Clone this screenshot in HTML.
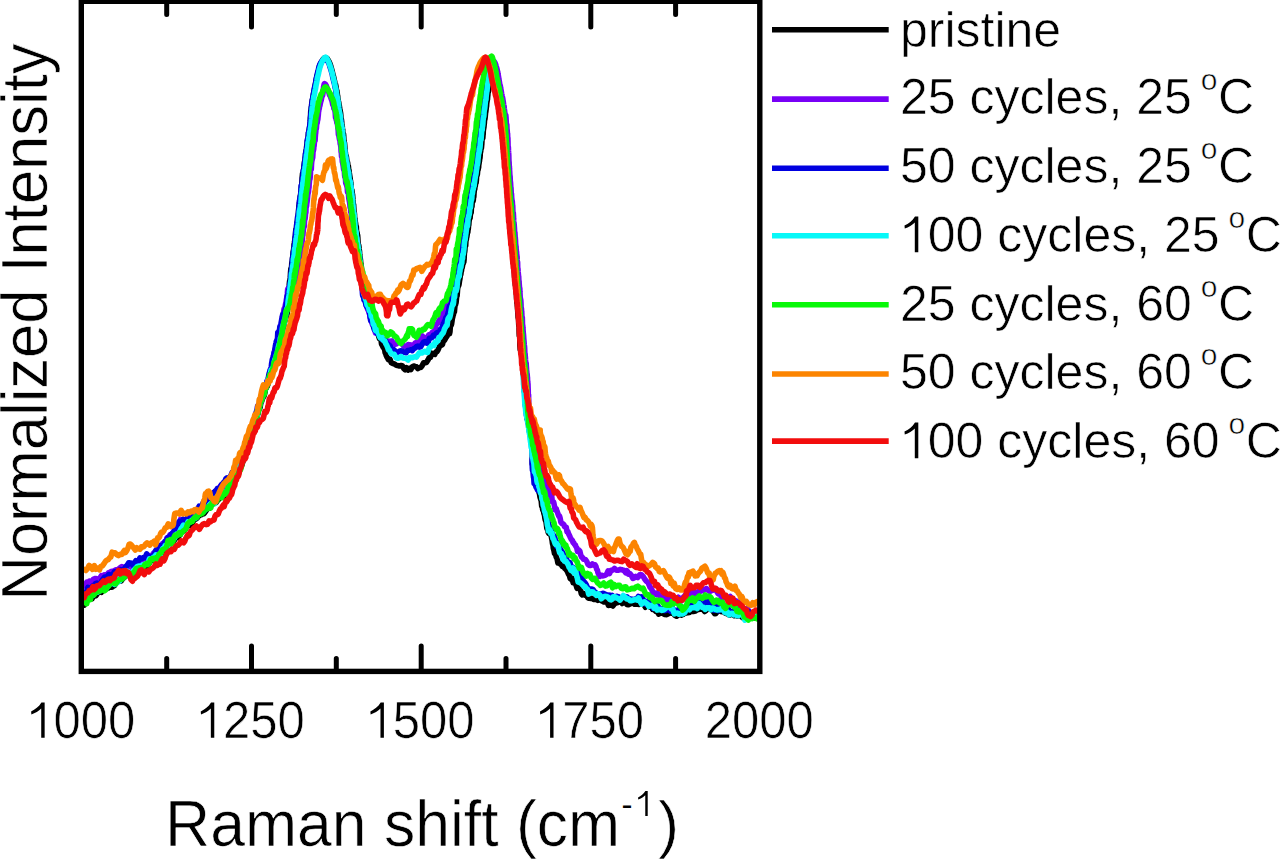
<!DOCTYPE html>
<html><head><meta charset="utf-8"><title>Raman spectra</title>
<style>html,body{margin:0;padding:0;background:#fff;overflow:hidden;width:1280px;height:859px}svg{display:block}</style>
</head><body>
<svg width="1280" height="859" viewBox="0 0 1280 859">
<rect width="1280" height="859" fill="#fff"/>
<defs><clipPath id="pc"><rect x="81" y="1" width="679" height="671"/></clipPath></defs>
<g clip-path="url(#pc)" fill="none" stroke-width="5.6" stroke-linejoin="round" stroke-linecap="round">
<path d="M84.2 605.2 L85.5 601.0 L86.8 599.7 L88.1 598.7 L89.4 599.1 L90.7 596.4 L92.0 598.7 L93.3 596.1 L94.6 595.9 L96.0 595.7 L97.3 593.5 L98.7 591.2 L100.0 591.7 L101.3 592.4 L102.7 590.4 L104.0 589.1 L105.3 588.1 L106.7 588.1 L108.0 588.3 L109.3 586.2 L110.7 587.3 L112.0 587.3 L113.3 586.1 L114.7 585.4 L116.0 582.7 L117.3 582.0 L118.7 580.3 L120.0 580.4 L121.3 580.9 L122.7 578.5 L124.0 577.8 L125.3 576.5 L126.7 575.4 L128.0 575.0 L129.3 574.6 L130.7 573.3 L132.0 574.8 L133.3 574.9 L134.7 572.3 L136.0 569.8 L137.3 568.7 L138.7 570.5 L140.0 569.2 L141.3 566.9 L142.7 567.1 L144.0 568.9 L145.3 567.0 L146.7 565.8 L148.0 564.8 L149.4 562.8 L150.7 560.6 L152.1 560.6 L153.4 560.3 L154.7 560.7 L156.0 560.2 L157.2 558.9 L158.3 557.3 L159.5 555.4 L160.6 554.8 L161.7 554.0 L162.9 551.5 L164.0 550.9 L165.1 549.3 L166.3 550.1 L167.4 550.0 L168.6 547.6 L169.7 542.1 L170.9 541.3 L172.0 541.8 L173.1 542.0 L174.3 540.4 L175.4 536.1 L176.6 536.4 L177.7 537.6 L178.9 535.9 L180.0 535.0 L181.1 532.6 L182.3 531.6 L183.4 531.0 L184.6 530.0 L185.7 528.5 L186.8 526.6 L188.0 526.0 L189.1 525.4 L190.3 525.6 L191.4 525.0 L192.6 522.7 L193.7 520.3 L194.9 518.9 L196.0 519.1 L197.1 518.0 L198.3 516.4 L199.4 515.6 L200.6 514.1 L201.7 514.6 L202.9 512.7 L204.0 513.6 L205.3 511.8 L206.7 509.9 L208.0 507.6 L209.3 508.1 L210.7 505.6 L212.0 504.5 L213.3 503.8 L214.7 501.3 L216.0 502.5 L217.3 500.7 L218.7 499.3 L220.0 496.7 L221.2 496.6 L222.3 494.2 L223.5 496.7 L224.7 495.3 L225.8 493.2 L226.9 491.4 L228.0 493.3 L228.9 492.1 L229.8 486.8 L230.6 489.4 L231.5 488.3 L232.4 484.5 L233.2 482.6 L234.0 482.4 L234.7 479.8 L235.4 477.7 L236.0 476.9 L236.8 477.4 L237.4 474.8 L238.0 473.4 L238.5 470.5 L239.2 471.0 L239.7 468.9 L240.3 467.0 L240.9 465.9 L241.5 465.9 L242.1 464.2 L242.8 462.0 L243.4 460.0 L244.0 458.8 L244.6 457.3 L245.2 456.0 L245.7 452.9 L246.3 448.4 L246.8 452.1 L247.3 452.7 L247.8 448.5 L248.3 445.9 L248.8 444.3 L249.3 442.8 L249.7 440.7 L250.2 438.3 L250.7 437.1 L251.1 436.2 L251.6 435.4 L252.0 434.2 L252.4 432.8 L252.9 432.0 L253.3 430.7 L253.7 430.5 L254.2 425.2 L254.6 423.5 L255.0 424.8 L255.5 425.9 L255.9 421.0 L256.3 419.0 L256.7 417.4 L257.2 418.0 L257.6 414.5 L258.0 413.8 L258.5 410.7 L258.9 408.4 L259.3 409.0 L259.8 408.4 L260.2 406.9 L260.7 403.6 L261.1 402.3 L261.6 401.7 L262.0 400.0 L262.5 398.3 L263.0 397.7 L263.5 396.4 L264.0 396.2 L264.5 394.5 L265.1 391.7 L265.7 386.9 L266.2 388.1 L266.8 387.0 L267.3 386.1 L267.9 384.4 L268.5 381.6 L269.0 380.7 L269.5 379.3 L270.1 377.7 L270.6 372.8 L271.1 370.7 L271.7 370.1 L272.2 369.3 L272.7 371.1 L273.2 368.3 L273.7 364.8 L274.2 366.0 L274.7 362.7 L275.1 360.1 L275.6 361.8 L276.1 360.0 L276.5 357.5 L277.0 358.0 L277.4 355.7 L277.8 355.4 L278.2 353.3 L278.6 351.9 L279.0 348.2 L279.3 347.4 L279.7 347.5 L280.0 343.5 L280.3 341.7 L280.6 340.2 L281.0 339.5 L281.3 338.4 L281.6 337.5 L281.9 337.3 L282.2 334.7 L282.5 330.5 L282.9 328.1 L283.2 327.1 L283.5 324.9 L283.8 326.1 L284.2 323.8 L284.5 322.2 L284.8 321.0 L285.1 318.0 L285.5 316.7 L286.0 317.6 L286.5 315.7 L286.9 314.2 L287.3 312.2 L287.6 308.8 L287.8 307.6 L287.8 304.1 L287.9 305.5 L287.9 305.6 L287.8 302.0 L287.8 303.0 L287.9 300.4 L288.0 297.2 L288.1 295.1 L288.2 294.4 L288.3 291.9 L288.4 291.6 L288.5 291.3 L288.7 289.4 L288.8 289.0 L289.0 288.4 L289.2 285.9 L289.3 284.1 L289.5 282.1 L289.7 280.5 L289.9 281.0 L290.1 279.5 L290.3 277.2 L290.5 273.3 L290.7 270.6 L290.9 268.4 L291.2 270.4 L291.4 267.9 L291.6 266.5 L291.8 263.0 L292.0 262.1 L292.2 261.8 L292.4 259.6 L292.6 257.8 L292.8 255.9 L293.0 254.2 L293.2 251.1 L293.4 251.0 L293.6 249.4 L293.8 248.2 L294.0 247.0 L294.1 244.2 L294.3 243.2 L294.5 241.9 L294.7 241.4 L294.9 239.4 L295.1 237.0 L295.3 237.8 L295.5 235.6 L295.7 230.9 L295.9 229.6 L296.1 228.8 L296.3 229.3 L296.5 228.2 L296.7 224.9 L296.9 223.7 L297.1 222.2 L297.3 221.4 L297.4 220.5 L297.6 219.4 L297.8 216.8 L298.0 217.8 L298.2 216.0 L298.4 213.0 L298.6 210.3 L298.8 207.4 L299.0 205.4 L299.2 204.7 L299.4 202.7 L299.6 202.3 L299.8 199.6 L300.0 200.2 L300.2 198.8 L300.3 195.7 L300.5 195.7 L300.7 193.5 L300.9 192.8 L301.1 191.0 L301.3 188.0 L301.5 185.8 L301.7 186.3 L301.9 183.1 L302.1 178.6 L302.3 176.2 L302.5 173.9 L302.7 173.0 L302.8 174.4 L303.0 175.7 L303.2 172.5 L303.4 171.4 L303.6 169.7 L303.8 168.2 L303.9 166.7 L304.1 165.3 L304.3 164.3 L304.5 161.5 L304.8 161.9 L305.0 160.7 L305.2 157.5 L305.5 156.4 L305.7 153.1 L305.9 152.0 L306.1 150.8 L306.4 148.8 L306.6 146.8 L306.8 145.3 L307.0 145.0 L307.2 142.5 L307.4 140.5 L307.6 140.7 L307.8 139.6 L308.0 139.1 L308.3 135.0 L308.5 132.5 L308.7 133.6 L309.0 131.8 L309.2 129.7 L309.4 128.9 L309.6 127.4 L309.8 127.0 L310.0 126.0 L310.1 124.8 L310.3 121.4 L310.4 117.6 L310.4 117.6 L310.5 117.5 L310.6 115.3 L310.7 112.1 L310.8 110.9 L311.0 110.6 L311.2 108.8 L311.4 107.1 L311.6 105.5 L311.8 103.3 L312.1 101.9 L312.3 99.9 L312.6 100.7 L312.9 97.8 L313.1 96.4 L313.4 94.3 L313.7 93.0 L314.0 91.1 L314.3 90.4 L314.6 89.2 L314.9 86.8 L315.2 85.0 L315.5 83.7 L315.8 82.4 L316.1 80.2 L316.5 78.5 L316.8 76.5 L317.1 75.4 L317.5 74.4 L317.8 73.2 L318.3 71.2 L318.7 69.6 L319.2 67.6 L319.7 65.5 L320.3 64.1 L321.0 62.9 L322.0 61.3 L323.2 59.1 L324.5 58.0 L325.6 57.7 L327.2 58.5 L328.5 60.7 L329.2 61.9 L329.8 63.3 L330.4 65.0 L330.9 66.4 L331.3 67.9 L331.8 69.8 L332.3 71.6 L332.7 73.3 L333.2 75.3 L333.5 76.5 L333.9 78.0 L334.2 79.7 L334.6 81.3 L335.0 83.2 L335.3 84.0 L335.6 84.5 L336.0 86.5 L336.3 89.0 L336.6 90.0 L336.9 91.5 L337.2 92.8 L337.4 94.9 L337.7 96.2 L337.9 98.2 L338.1 99.2 L338.4 101.4 L338.6 102.3 L338.9 103.5 L339.1 105.3 L339.3 105.6 L339.6 107.6 L339.8 109.6 L340.1 110.2 L340.3 111.6 L340.6 113.1 L340.8 115.0 L341.0 118.0 L341.3 119.0 L341.5 120.0 L341.7 121.8 L341.9 124.6 L342.1 126.6 L342.3 126.5 L342.4 127.8 L342.6 129.5 L342.8 130.6 L343.0 134.1 L343.1 134.3 L343.3 134.3 L343.5 133.8 L343.7 135.8 L343.9 140.1 L344.1 140.7 L344.3 143.5 L344.5 142.8 L344.7 145.0 L345.0 149.0 L345.2 151.7 L345.4 152.4 L345.6 154.9 L345.8 156.7 L346.1 156.3 L346.3 156.0 L346.6 158.6 L346.8 160.4 L347.1 161.4 L347.3 162.0 L347.6 162.6 L347.9 165.6 L348.1 165.6 L348.4 166.5 L348.7 169.7 L349.0 170.2 L349.3 172.9 L349.5 174.2 L349.8 176.1 L350.1 178.0 L350.3 180.1 L350.5 180.7 L350.8 183.0 L351.0 183.8 L351.2 187.4 L351.5 190.3 L351.7 189.8 L351.9 190.5 L352.1 191.1 L352.3 194.1 L352.5 194.1 L352.7 196.3 L352.9 199.2 L353.1 201.2 L353.3 203.8 L353.4 204.2 L353.6 204.5 L353.8 207.9 L353.9 210.2 L354.0 211.0 L354.2 212.7 L354.3 212.7 L354.5 214.4 L354.6 217.6 L354.8 219.6 L354.9 218.3 L355.1 219.4 L355.3 221.9 L355.5 222.8 L355.7 224.1 L355.9 227.0 L356.1 227.0 L356.3 226.4 L356.5 230.9 L356.7 231.5 L356.9 232.2 L357.2 233.4 L357.4 237.0 L357.6 234.9 L357.8 237.4 L358.0 241.8 L358.2 245.2 L358.4 245.4 L358.6 244.8 L358.9 246.3 L359.1 248.5 L359.3 250.2 L359.5 251.1 L359.7 254.6 L359.9 256.1 L360.1 258.3 L360.3 258.5 L360.5 260.1 L360.7 262.7 L360.9 263.6 L361.0 266.6 L361.2 267.2 L361.3 266.3 L361.5 275.3 L361.7 272.7 L361.8 272.4 L362.0 272.0 L362.2 275.3 L362.3 276.7 L362.5 279.6 L362.7 281.3 L362.9 284.2 L363.2 284.2 L363.4 285.8 L363.6 286.8 L363.9 288.2 L364.1 291.5 L364.4 292.9 L364.7 292.2 L365.0 292.7 L365.3 295.8 L365.7 299.4 L366.2 299.9 L366.6 302.8 L367.1 301.3 L367.6 302.4 L368.1 301.2 L368.6 304.9 L369.2 308.0 L369.9 311.6 L370.6 312.6 L371.2 314.9 L371.8 316.0 L372.3 317.5 L372.7 317.8 L373.0 320.2 L373.4 320.4 L373.9 321.9 L374.4 322.6 L375.0 323.4 L375.5 325.1 L376.1 328.0 L376.7 329.6 L377.3 329.7 L377.8 333.3 L378.4 335.3 L378.9 337.1 L379.4 338.4 L379.9 337.4 L380.5 336.6 L381.0 339.8 L381.6 344.4 L382.1 343.0 L382.7 346.6 L383.3 346.4 L383.9 348.3 L384.5 348.1 L385.1 352.7 L385.7 353.6 L386.3 355.6 L386.9 357.0 L387.6 358.1 L388.3 359.5 L389.1 359.0 L389.9 359.0 L391.3 362.8 L392.8 363.5 L394.4 363.9 L396.0 365.1 L397.6 365.6 L399.2 365.9 L400.9 365.5 L402.5 366.0 L403.9 368.7 L405.2 369.8 L406.6 367.8 L408.0 370.1 L409.5 368.5 L410.8 369.6 L412.2 366.9 L413.6 366.0 L415.0 366.5 L416.4 366.8 L417.9 368.6 L419.3 367.5 L420.7 367.5 L422.1 365.7 L423.5 362.9 L425.0 362.8 L426.4 362.5 L427.8 360.3 L429.2 357.7 L430.5 357.3 L431.6 353.1 L432.7 354.6 L433.8 353.6 L434.8 354.4 L435.9 351.9 L436.9 351.6 L437.9 350.1 L438.9 347.8 L439.8 345.0 L440.7 345.0 L441.6 345.1 L442.5 344.3 L443.3 340.8 L444.1 340.8 L444.9 339.8 L445.6 338.1 L446.4 337.0 L447.1 336.1 L447.7 334.5 L448.4 330.8 L449.0 329.8 L449.5 333.8 L450.0 331.6 L450.4 325.4 L450.8 325.9 L451.2 325.2 L451.6 323.9 L452.0 321.2 L452.4 318.1 L452.7 317.4 L453.0 315.8 L453.4 314.7 L453.7 312.9 L454.1 312.4 L454.4 311.9 L454.7 308.5 L455.0 305.7 L455.3 304.4 L455.6 304.7 L455.8 303.3 L456.1 302.6 L456.4 299.3 L456.6 297.3 L456.9 294.2 L457.1 296.0 L457.4 291.9 L457.6 288.9 L457.9 287.3 L458.2 285.5 L458.4 286.3 L458.7 285.5 L458.9 285.0 L459.2 283.2 L459.5 281.1 L459.8 279.5 L460.2 276.7 L460.5 272.7 L460.8 274.7 L461.1 271.9 L461.5 270.6 L461.8 267.6 L462.1 268.1 L462.4 266.5 L462.7 264.8 L463.0 263.7 L463.3 263.5 L463.6 262.0 L463.8 262.1 L464.1 259.5 L464.3 254.8 L464.5 252.6 L464.7 251.9 L464.9 250.1 L465.1 245.8 L465.3 244.6 L465.5 245.6 L465.7 245.7 L465.9 241.1 L466.2 240.0 L466.4 239.3 L466.6 237.3 L466.8 237.1 L467.1 235.1 L467.3 233.4 L467.5 232.2 L467.8 232.3 L468.0 230.0 L468.3 228.9 L468.5 226.1 L468.8 224.8 L469.0 221.7 L469.3 219.9 L469.5 219.1 L469.8 218.3 L470.1 218.0 L470.3 215.5 L470.6 212.1 L470.9 213.4 L471.2 212.2 L471.4 207.3 L471.7 207.4 L472.0 206.2 L472.2 201.4 L472.5 201.8 L472.7 201.4 L473.0 201.3 L473.3 200.0 L473.5 197.5 L473.8 196.8 L474.0 193.5 L474.3 190.7 L474.5 189.5 L474.8 188.9 L475.1 185.6 L475.3 186.1 L475.6 183.3 L475.8 183.0 L476.1 182.9 L476.4 180.0 L476.6 176.1 L476.9 176.0 L477.1 175.1 L477.4 174.1 L477.6 171.3 L477.9 169.7 L478.1 170.0 L478.3 168.5 L478.6 167.5 L478.8 164.4 L479.0 163.8 L479.3 161.7 L479.5 160.8 L479.7 158.7 L479.9 158.3 L480.1 156.7 L480.4 151.8 L480.6 151.9 L480.8 150.5 L481.0 148.6 L481.2 147.8 L481.4 148.3 L481.6 146.1 L481.8 144.0 L482.0 140.2 L482.2 138.9 L482.4 138.2 L482.6 138.5 L482.8 138.1 L483.0 135.5 L483.2 133.9 L483.3 131.0 L483.5 129.5 L483.7 128.4 L483.9 127.5 L484.1 125.5 L484.4 122.6 L484.5 120.3 L484.7 119.6 L484.9 119.2 L485.1 117.9 L485.3 115.9 L485.5 113.8 L485.6 112.7 L485.8 111.9 L486.0 110.3 L486.2 108.5 L486.4 106.8 L486.6 105.9 L486.7 103.7 L486.9 102.3 L487.1 101.1 L487.3 100.0 L487.5 99.1 L487.6 97.3 L487.8 95.5 L488.0 92.6 L488.2 92.0 L488.5 91.4 L488.7 87.9 L488.9 86.2 L489.1 85.2 L489.3 83.7 L489.4 81.9 L489.6 80.2 L489.7 78.9 L489.8 77.4 L489.9 76.1 L490.0 74.2 L490.1 72.4 L490.2 70.9 L490.3 69.3 L490.5 67.9 L490.7 66.1 L491.0 64.1 L491.3 62.1 L491.6 60.9 L492.0 60.4 L492.4 60.7 L492.9 61.6 L493.4 62.9 L493.9 64.6 L494.5 66.4 L495.1 68.2 L495.6 70.4 L496.0 72.3 L496.3 73.4 L496.5 74.9 L496.8 76.3 L497.0 77.5 L497.2 79.3 L497.4 81.2 L497.6 82.7 L497.8 84.5 L497.9 85.8 L498.1 87.1 L498.3 88.5 L498.4 90.3 L498.6 92.7 L498.8 94.2 L499.0 94.7 L499.3 96.7 L499.5 98.0 L499.8 97.5 L500.0 101.5 L500.3 101.9 L500.6 104.8 L500.8 105.1 L501.0 106.6 L501.3 109.0 L501.5 109.7 L501.7 112.1 L501.9 114.4 L502.0 116.3 L502.2 117.5 L502.4 118.0 L502.5 119.4 L502.7 123.1 L502.8 123.1 L503.0 125.9 L503.1 127.0 L503.3 129.7 L503.4 129.2 L503.5 129.6 L503.6 132.2 L503.7 134.2 L503.7 135.4 L503.8 135.7 L503.9 137.1 L504.0 137.9 L504.1 138.4 L504.2 141.2 L504.3 143.0 L504.3 145.4 L504.4 147.3 L504.5 146.8 L504.6 148.2 L504.7 149.9 L504.8 150.9 L504.9 154.1 L504.9 155.1 L505.0 159.5 L505.1 159.6 L505.2 159.3 L505.3 161.4 L505.4 162.0 L505.5 164.7 L505.6 168.4 L505.7 170.0 L505.8 170.1 L505.9 172.5 L506.0 173.3 L506.1 176.0 L506.2 178.9 L506.3 178.3 L506.4 177.1 L506.5 179.7 L506.7 183.1 L506.8 185.4 L506.9 183.8 L507.0 186.1 L507.2 188.5 L507.3 190.6 L507.4 192.5 L507.5 191.3 L507.7 193.6 L507.8 197.3 L507.9 198.2 L508.1 199.8 L508.2 202.1 L508.3 202.3 L508.5 204.0 L508.6 204.0 L508.7 203.9 L508.9 205.8 L509.0 209.2 L509.1 210.4 L509.3 211.6 L509.4 213.8 L509.5 214.3 L509.7 216.9 L509.8 217.9 L509.9 217.7 L510.1 219.3 L510.2 224.5 L510.3 223.5 L510.5 222.7 L510.6 226.9 L510.7 229.4 L510.8 230.7 L511.0 232.0 L511.1 232.8 L511.2 235.2 L511.4 236.5 L511.5 237.8 L511.6 239.7 L511.7 242.1 L511.9 243.1 L512.0 243.5 L512.1 245.5 L512.3 247.3 L512.4 249.2 L512.5 251.5 L512.6 253.7 L512.8 254.1 L512.9 252.5 L513.0 254.6 L513.2 258.0 L513.3 259.4 L513.4 260.3 L513.6 259.7 L513.7 262.9 L513.8 265.1 L513.9 264.9 L514.1 266.4 L514.2 268.4 L514.3 271.9 L514.5 274.3 L514.6 277.1 L514.7 277.5 L514.9 275.8 L515.0 277.0 L515.2 282.7 L515.3 285.0 L515.4 284.1 L515.6 285.7 L515.7 284.3 L515.9 285.4 L516.0 288.4 L516.1 290.9 L516.3 292.6 L516.4 294.4 L516.5 296.7 L516.7 299.9 L516.8 301.2 L517.0 303.2 L517.1 303.6 L517.2 303.4 L517.3 305.6 L517.5 307.2 L517.6 309.6 L517.7 310.5 L517.8 312.6 L518.0 314.6 L518.1 317.2 L518.2 317.9 L518.3 317.3 L518.5 319.2 L518.6 318.2 L518.7 324.0 L518.8 325.5 L519.0 324.5 L519.1 327.8 L519.2 333.2 L519.3 335.7 L519.5 333.8 L519.6 335.9 L519.7 335.9 L519.8 340.1 L519.9 344.5 L520.0 346.5 L520.1 347.3 L520.2 349.4 L520.3 349.2 L520.4 349.7 L520.5 350.2 L520.6 350.6 L520.6 350.8 L520.7 350.9 L520.8 350.5 L520.8 349.9 L520.9 348.4 L520.9 346.4 L520.9 343.8 L521.0 342.8 L521.0 338.3 L521.0 337.0 L521.0 333.0 L521.0 335.1 L521.1 335.9 L521.1 335.4 L521.1 333.6 L521.2 332.9 L521.3 332.8 L521.4 331.8 L521.5 331.5 L521.6 335.1 L521.7 335.9 L521.8 334.9 L521.9 339.6 L522.0 341.0 L522.1 343.0 L522.2 346.4 L522.3 346.3 L522.4 348.0 L522.5 350.0 L522.6 350.8 L522.7 352.1 L522.8 356.1 L522.8 357.0 L522.9 358.4 L523.0 359.3 L523.1 360.3 L523.1 362.1 L523.2 364.2 L523.3 366.7 L523.3 368.2 L523.4 368.9 L523.5 371.9 L523.6 371.3 L523.6 370.9 L523.7 374.1 L523.8 375.8 L523.8 375.3 L523.9 377.8 L524.0 379.8 L524.1 383.5 L524.1 383.6 L524.2 386.8 L524.3 387.9 L524.4 388.3 L524.5 390.1 L524.6 391.7 L524.7 389.7 L524.8 394.6 L524.9 396.2 L525.1 400.0 L525.2 399.0 L525.3 401.1 L525.5 399.6 L525.6 404.6 L525.8 405.7 L525.9 406.6 L526.1 408.1 L526.3 410.0 L526.5 411.7 L526.7 411.5 L526.9 413.0 L527.2 417.9 L527.4 419.6 L527.7 419.7 L528.0 420.5 L528.2 422.3 L528.5 424.1 L528.8 425.3 L529.0 427.8 L529.3 427.5 L529.5 429.6 L529.7 432.2 L530.0 432.6 L530.2 432.8 L530.5 436.5 L530.8 436.3 L531.0 438.2 L531.3 439.7 L531.5 441.9 L531.7 443.2 L531.9 445.5 L532.1 448.9 L532.3 450.3 L532.4 450.2 L532.5 451.8 L532.5 453.6 L532.5 456.9 L532.5 457.1 L532.4 457.4 L532.4 459.1 L532.3 461.4 L532.4 464.0 L532.5 465.1 L532.7 463.8 L533.7 466.0 L534.7 467.4 L535.1 472.4 L535.4 473.4 L535.7 476.6 L535.9 474.4 L536.2 478.9 L536.5 478.1 L536.8 479.4 L537.1 480.3 L537.5 481.7 L537.8 484.3 L538.2 485.7 L538.5 487.7 L538.9 490.3 L539.2 493.1 L539.5 493.9 L539.8 495.7 L540.1 497.4 L540.4 498.3 L540.8 499.6 L541.1 499.7 L541.4 502.8 L541.7 506.3 L542.0 505.6 L542.4 507.4 L542.7 510.0 L543.0 509.6 L543.3 509.9 L543.7 512.3 L544.1 514.2 L544.5 514.9 L544.8 517.7 L545.2 519.8 L545.6 520.8 L546.1 522.1 L546.5 525.5 L546.9 528.7 L547.4 527.2 L547.8 529.1 L548.2 532.3 L548.7 533.3 L549.3 532.1 L549.8 532.8 L550.4 533.9 L550.9 534.9 L551.4 536.7 L551.8 539.1 L552.1 540.3 L552.4 542.9 L552.7 544.4 L553.0 545.1 L553.3 548.1 L553.6 549.3 L554.0 550.7 L554.5 553.4 L555.0 554.0 L555.6 554.6 L556.3 557.3 L557.1 558.8 L557.9 563.0 L558.7 562.2 L559.6 563.3 L560.5 564.1 L561.3 564.6 L562.2 566.3 L563.0 565.7 L563.9 566.1 L564.8 568.4 L565.7 569.0 L566.7 570.4 L567.6 572.0 L568.5 574.3 L569.3 575.0 L570.2 578.6 L571.2 579.4 L572.2 578.3 L573.1 582.7 L574.0 581.6 L575.0 582.1 L576.0 585.0 L577.0 588.3 L578.1 587.3 L579.1 587.0 L580.2 588.5 L581.3 593.8 L582.4 594.9 L583.8 593.7 L585.1 595.1 L586.5 595.7 L588.0 597.8 L589.3 598.3 L590.6 598.4 L592.0 598.2 L593.5 599.4 L595.0 599.2 L596.3 599.6 L597.7 600.3 L599.2 599.3 L600.7 600.1 L602.2 601.1 L603.8 601.9 L605.3 600.4 L606.9 601.2 L608.4 605.4 L609.8 605.3 L611.4 605.0 L612.9 606.0 L614.4 603.8 L615.9 602.8 L617.5 602.6 L619.0 599.7 L620.6 601.3 L622.1 603.5 L623.7 602.3 L625.3 602.0 L626.9 604.5 L628.4 604.8 L630.0 604.0 L631.6 602.8 L633.1 603.1 L634.5 604.1 L635.8 604.1 L637.6 604.2 L639.3 604.4 L640.9 603.9 L642.4 601.3 L643.9 604.5 L645.5 607.2 L647.1 604.4 L648.5 604.5 L650.0 607.1 L651.4 606.8 L652.7 609.4 L654.1 609.0 L655.6 611.2 L657.0 610.0 L658.6 614.1 L660.2 613.2 L661.9 612.7 L663.5 613.7 L664.9 614.5 L666.7 614.6 L668.3 613.7 L670.0 612.1 L671.5 613.1 L673.1 611.4 L674.8 615.3 L676.6 616.2 L678.4 614.9 L679.9 614.2 L681.4 615.1 L683.0 614.5 L684.6 612.8 L686.2 613.0 L687.9 612.6 L689.5 612.5 L691.0 610.8 L692.5 611.4 L694.0 611.4 L695.4 611.0 L696.9 609.9 L698.3 609.6 L699.8 609.3 L701.4 609.2 L703.0 609.2 L704.6 611.5 L706.3 610.2 L708.1 607.7 L709.9 608.3 L711.6 609.3 L713.2 611.5 L714.7 613.7 L716.1 613.4 L717.8 609.9 L719.3 610.5 L720.8 611.5 L722.4 611.8 L723.7 611.9 L725.2 613.2 L726.7 613.6 L728.2 614.4 L729.8 615.1 L731.3 614.3 L732.9 614.5 L734.4 615.7 L735.9 614.9 L737.4 616.0 L738.9 615.6 L740.5 615.9 L742.0 617.1 L743.5 618.1 L745.0 617.2 L746.6 616.6 L748.3 617.0 L750.0 615.8 L751.6 617.7 L753.2 616.7 L754.6 617.8 L755.9 617.2 L758.1 617.7 L760.0 617.9" stroke="#000"/>
<path d="M84.2 585.9 L85.5 585.3 L86.8 582.1 L88.1 586.2 L89.5 581.0 L90.8 581.4 L92.1 582.5 L93.4 579.3 L94.7 578.6 L96.0 578.5 L97.4 580.6 L98.7 581.9 L100.1 577.7 L101.4 575.6 L102.8 576.4 L104.2 574.8 L105.6 575.4 L107.2 574.4 L108.5 572.8 L109.8 572.2 L111.3 571.4 L112.7 571.8 L114.2 570.8 L115.7 569.8 L117.3 569.9 L118.8 569.0 L120.3 567.6 L121.8 566.6 L123.3 567.6 L124.7 568.0 L126.0 569.9 L127.5 565.1 L129.0 565.8 L130.4 566.7 L131.8 567.6 L133.1 566.2 L134.5 563.7 L135.8 563.5 L137.2 563.8 L138.6 562.5 L139.9 562.4 L141.2 559.4 L142.6 562.1 L144.0 562.4 L145.3 559.4 L146.7 559.1 L148.0 557.7 L149.4 555.5 L150.7 556.0 L152.0 556.3 L153.3 553.5 L154.5 552.5 L155.7 552.2 L156.8 552.2 L158.0 551.3 L159.2 548.7 L160.3 548.3 L161.5 545.3 L162.6 543.5 L163.7 543.7 L164.8 543.0 L165.9 542.0 L166.9 538.0 L168.0 538.8 L169.0 537.0 L169.9 534.8 L170.8 536.5 L171.7 535.3 L172.6 532.8 L173.5 532.3 L174.4 530.0 L175.3 528.2 L176.1 527.8 L177.0 525.4 L177.9 522.9 L178.7 524.2 L179.6 523.1 L180.5 519.4 L181.9 520.9 L183.3 521.2 L184.7 522.0 L186.1 521.6 L187.5 518.5 L188.9 517.6 L190.0 519.8 L191.1 518.4 L192.3 515.4 L193.4 515.1 L194.6 514.2 L195.7 512.9 L196.9 512.4 L198.1 508.0 L199.2 509.5 L200.4 507.9 L201.5 506.1 L202.7 505.3 L203.8 501.8 L205.0 503.8 L206.1 501.3 L207.3 499.8 L208.4 499.7 L209.6 500.8 L210.7 501.1 L211.9 497.9 L213.0 494.4 L214.1 492.8 L215.2 492.0 L216.2 490.6 L217.3 488.9 L218.4 488.1 L219.5 487.5 L220.6 486.0 L221.6 484.6 L222.6 483.8 L223.6 487.2 L224.5 482.0 L225.9 480.0 L227.1 480.9 L228.4 479.5 L229.6 479.5 L230.8 479.1 L231.6 477.8 L232.4 475.2 L233.1 473.3 L233.9 472.3 L234.7 469.2 L235.5 468.9 L236.3 466.9 L237.1 466.5 L237.8 465.6 L238.6 464.9 L239.3 460.9 L240.0 462.0 L240.6 460.7 L241.3 458.4 L241.9 454.9 L242.5 454.5 L243.0 451.4 L243.6 449.8 L244.2 455.9 L244.7 452.6 L245.3 451.4 L245.8 446.9 L246.4 446.7 L246.9 445.4 L247.5 443.4 L248.0 440.8 L248.5 438.2 L248.9 436.0 L249.4 437.6 L249.9 436.6 L250.3 435.3 L250.8 433.4 L251.2 432.4 L251.7 428.3 L252.1 427.4 L252.6 426.6 L253.0 423.5 L253.4 422.6 L253.9 422.8 L254.3 421.4 L254.7 420.3 L255.2 422.3 L255.6 420.9 L256.0 417.3 L256.5 412.7 L257.0 411.2 L257.5 411.3 L258.0 408.4 L258.5 405.9 L259.0 406.0 L259.5 403.8 L260.0 402.1 L260.5 403.4 L261.0 402.3 L261.5 399.1 L262.0 396.6 L262.5 396.5 L263.0 395.7 L263.5 393.5 L264.0 389.2 L264.5 389.3 L265.0 389.3 L265.5 388.6 L266.0 387.7 L266.5 385.7 L267.0 381.3 L267.5 379.9 L268.0 378.8 L268.4 381.2 L268.8 378.0 L269.2 376.9 L269.6 375.8 L270.0 372.1 L270.4 369.4 L270.7 369.0 L271.1 368.8 L271.5 368.8 L271.9 365.3 L272.3 363.3 L272.6 362.9 L273.0 359.6 L273.4 357.7 L273.7 354.5 L274.1 355.4 L274.5 353.3 L274.9 350.2 L275.2 349.7 L275.6 349.6 L276.0 347.4 L276.4 347.0 L276.7 345.4 L277.1 342.4 L277.5 342.6 L277.8 343.1 L278.2 338.9 L278.6 336.5 L278.9 335.0 L279.3 334.0 L279.6 334.3 L280.0 332.9 L280.3 331.8 L280.7 329.9 L281.0 328.3 L281.3 326.3 L281.7 323.1 L282.0 320.5 L282.4 319.1 L282.7 315.3 L283.0 319.1 L283.3 313.6 L283.6 313.0 L283.9 309.7 L284.2 308.6 L284.5 308.9 L284.8 307.5 L285.1 306.7 L285.4 304.8 L285.7 303.4 L286.0 302.7 L286.3 300.1 L286.7 297.9 L287.0 296.8 L287.3 294.0 L287.7 289.0 L288.0 290.3 L288.3 288.7 L288.6 287.6 L288.9 287.7 L289.2 288.1 L289.5 287.8 L289.8 287.4 L290.1 287.3 L290.3 288.2 L290.6 288.7 L290.9 291.2 L291.1 294.0 L291.4 295.3 L291.6 297.2 L291.9 296.9 L292.1 297.2 L292.7 296.0 L293.2 294.1 L293.4 293.4 L293.7 292.3 L293.9 291.4 L294.1 292.0 L294.4 291.3 L294.6 288.2 L294.9 285.9 L295.1 282.9 L295.4 278.5 L295.7 279.7 L296.0 278.6 L296.2 276.8 L296.5 275.2 L296.8 271.2 L297.1 270.6 L297.4 272.9 L297.7 270.8 L298.0 267.9 L298.3 267.9 L298.6 263.3 L298.9 262.5 L299.1 260.8 L299.4 258.5 L299.7 257.7 L299.9 256.5 L300.1 256.0 L300.4 255.0 L300.6 251.4 L300.8 249.3 L301.0 249.0 L301.3 247.6 L301.5 245.2 L301.7 245.0 L301.9 244.3 L302.1 241.0 L302.3 240.7 L302.5 235.8 L302.7 234.2 L302.9 235.6 L303.1 232.4 L303.3 230.6 L303.4 230.0 L303.6 228.4 L303.8 227.3 L304.0 224.3 L304.1 225.8 L304.3 226.6 L304.5 220.8 L304.7 218.4 L304.9 219.4 L305.1 218.7 L305.3 216.8 L305.5 213.7 L305.7 213.2 L305.9 212.3 L306.0 208.0 L306.2 207.3 L306.4 206.4 L306.6 205.8 L306.8 203.3 L307.0 202.4 L307.2 200.7 L307.4 199.4 L307.6 197.0 L307.8 194.8 L307.9 194.0 L308.1 193.4 L308.3 191.9 L308.5 191.9 L308.7 188.9 L308.9 187.9 L309.0 187.7 L309.2 183.7 L309.4 181.9 L309.6 179.4 L309.8 179.4 L310.0 179.1 L310.2 176.9 L310.4 174.6 L310.5 170.3 L310.7 169.4 L310.9 168.4 L311.1 169.1 L311.3 169.3 L311.5 164.5 L311.7 162.0 L311.9 160.8 L312.1 160.1 L312.3 158.7 L312.5 158.3 L312.7 157.7 L312.9 154.1 L313.1 150.7 L313.3 151.1 L313.5 149.4 L313.7 149.4 L313.9 146.3 L314.1 146.0 L314.3 143.7 L314.5 141.2 L314.7 139.7 L314.9 140.5 L315.1 140.7 L315.3 136.7 L315.5 134.2 L315.7 132.9 L315.9 129.8 L316.1 128.3 L316.3 129.0 L316.5 126.7 L316.7 123.3 L316.9 122.8 L317.1 123.4 L317.3 122.1 L317.5 120.2 L317.8 119.7 L318.0 117.8 L318.3 115.0 L318.5 112.2 L318.8 110.7 L319.0 109.2 L319.3 108.4 L319.6 106.0 L319.9 105.9 L320.3 103.5 L320.8 101.4 L321.3 99.8 L321.8 96.9 L322.3 96.0 L322.7 95.2 L323.0 93.2 L323.2 91.8 L323.4 89.1 L323.6 86.7 L323.9 85.6 L324.2 84.0 L324.6 83.6 L325.1 84.0 L325.7 84.6 L326.3 85.6 L327.0 87.6 L327.7 90.1 L328.4 90.7 L329.0 93.0 L329.6 95.4 L330.2 95.7 L330.7 97.3 L331.3 99.2 L331.8 100.4 L332.3 102.3 L332.7 104.6 L333.2 105.2 L333.6 106.4 L333.9 108.5 L334.3 109.2 L334.6 109.5 L334.9 110.7 L335.2 112.5 L335.5 117.3 L335.8 117.2 L336.1 119.2 L336.4 120.4 L336.7 120.8 L336.9 123.1 L337.2 122.8 L337.4 123.4 L337.7 126.3 L337.9 127.7 L338.2 130.6 L338.4 134.4 L338.7 135.2 L338.9 135.0 L339.1 137.2 L339.4 138.9 L339.6 139.8 L339.8 139.9 L340.0 141.3 L340.2 143.8 L340.5 144.3 L340.7 146.1 L340.9 147.3 L341.1 152.0 L341.3 150.7 L341.5 156.2 L341.7 154.5 L341.9 154.9 L342.1 157.1 L342.3 161.3 L342.5 162.5 L342.7 162.4 L343.0 164.8 L343.2 165.9 L343.4 167.6 L343.7 169.8 L343.9 169.6 L344.1 168.7 L344.4 172.0 L344.6 175.4 L344.9 177.4 L345.1 176.8 L345.4 178.0 L345.7 182.7 L346.0 182.1 L346.3 184.5 L346.6 185.0 L346.9 186.6 L347.2 187.2 L347.5 191.9 L347.9 189.3 L348.2 191.5 L348.5 194.4 L348.8 198.5 L349.0 199.4 L349.3 200.9 L349.5 201.8 L349.8 203.8 L350.0 206.3 L350.2 207.8 L350.4 206.9 L350.6 209.0 L350.7 211.6 L350.9 211.4 L351.1 212.7 L351.3 214.4 L351.4 218.6 L351.6 219.0 L351.8 217.5 L352.0 220.7 L352.2 222.3 L352.3 226.0 L352.5 226.5 L352.7 225.1 L352.8 227.8 L353.0 228.8 L353.2 230.8 L353.3 232.2 L353.5 232.3 L353.7 236.5 L354.0 236.9 L354.2 239.0 L354.5 243.3 L354.7 245.3 L355.0 245.1 L355.3 246.8 L355.6 246.1 L355.9 249.1 L356.3 250.1 L356.6 251.2 L357.0 252.4 L357.3 254.5 L357.7 256.3 L358.0 259.1 L358.4 263.1 L358.8 261.6 L359.2 262.3 L359.6 261.4 L360.1 262.0 L360.6 268.9 L361.0 267.1 L361.5 269.3 L361.9 272.4 L362.4 275.0 L362.8 276.9 L363.2 278.4 L363.6 276.7 L363.9 278.8 L364.1 281.5 L364.4 282.1 L364.5 283.6 L364.7 285.6 L364.8 290.3 L364.9 288.6 L365.1 289.5 L365.2 291.9 L365.3 293.5 L365.4 296.9 L365.5 297.2 L365.6 298.3 L365.7 300.2 L365.9 304.1 L366.0 305.3 L366.3 304.5 L366.5 304.2 L367.1 307.1 L367.7 309.7 L368.4 310.3 L369.1 313.1 L369.7 314.5 L370.2 317.6 L370.6 318.3 L371.0 319.4 L371.5 320.2 L372.0 323.3 L372.6 324.9 L373.2 325.1 L373.9 327.1 L374.7 328.8 L375.5 332.9 L376.4 331.6 L377.3 333.4 L378.4 333.7 L379.4 334.7 L380.5 336.1 L381.8 338.1 L383.1 339.7 L384.6 341.4 L386.0 341.5 L387.4 340.9 L388.9 341.3 L390.4 341.3 L392.0 340.9 L393.5 343.9 L395.1 344.2 L396.7 343.8 L398.4 341.7 L400.0 341.5 L401.6 342.1 L403.2 345.7 L404.8 346.9 L406.5 346.3 L408.1 344.6 L409.5 344.7 L410.9 345.0 L412.3 345.3 L413.7 345.1 L415.1 343.2 L416.5 342.3 L417.9 342.6 L419.3 341.8 L420.8 339.7 L422.2 335.9 L423.7 337.6 L425.0 339.0 L426.4 337.8 L427.7 336.8 L428.9 334.8 L430.0 334.6 L431.0 334.1 L432.1 332.6 L433.1 331.9 L434.1 331.4 L435.0 329.9 L436.0 324.4 L437.0 323.8 L437.9 322.9 L438.8 321.1 L439.7 319.5 L440.6 320.1 L441.4 317.1 L442.2 314.2 L443.0 313.0 L443.6 312.8 L444.2 311.1 L444.7 311.6 L445.2 312.7 L445.7 307.4 L446.2 305.1 L446.6 307.5 L447.1 304.2 L447.5 300.7 L448.0 299.0 L448.4 299.5 L448.8 298.4 L449.2 297.4 L449.6 293.4 L450.0 292.5 L450.4 291.0 L450.8 290.3 L451.1 290.4 L451.5 288.1 L451.9 284.9 L452.3 283.8 L452.6 282.9 L453.0 281.6 L453.3 278.6 L453.7 276.6 L454.0 276.1 L454.3 275.9 L454.6 275.6 L454.9 274.4 L455.3 271.7 L455.6 268.6 L455.9 267.7 L456.2 265.5 L456.5 263.1 L456.8 262.9 L457.1 261.8 L457.4 259.8 L457.7 255.6 L458.0 254.5 L458.3 254.1 L458.6 252.9 L458.9 251.1 L459.1 248.3 L459.4 246.1 L459.7 247.8 L460.0 245.8 L460.3 243.3 L460.5 241.3 L460.8 240.1 L461.1 240.2 L461.4 237.7 L461.6 236.1 L461.9 235.4 L462.2 231.7 L462.5 233.1 L462.7 230.6 L463.0 226.8 L463.3 225.3 L463.5 221.8 L463.8 220.6 L464.1 221.5 L464.4 221.3 L464.6 218.8 L464.9 216.0 L465.2 214.5 L465.4 212.9 L465.7 211.1 L466.0 207.5 L466.2 208.2 L466.5 208.1 L466.8 209.9 L467.0 206.2 L467.3 203.2 L467.5 201.8 L467.8 199.8 L468.0 196.4 L468.2 194.0 L468.4 194.3 L468.7 193.7 L468.9 192.3 L469.1 189.7 L469.3 188.2 L469.5 187.7 L469.7 186.9 L469.9 185.5 L470.1 183.5 L470.3 181.6 L470.5 180.2 L470.7 179.2 L470.9 175.9 L471.1 174.5 L471.3 173.9 L471.5 171.5 L471.7 171.3 L471.9 169.5 L472.1 168.3 L472.3 165.4 L472.5 165.1 L472.7 164.5 L472.9 161.3 L473.1 159.7 L473.3 157.9 L473.5 157.4 L473.8 155.8 L474.0 154.1 L474.2 150.8 L474.4 148.1 L474.6 147.5 L474.8 147.9 L475.0 149.2 L475.2 145.8 L475.5 141.2 L475.7 137.8 L475.9 139.7 L476.1 137.6 L476.3 134.8 L476.5 136.2 L476.7 133.9 L476.9 131.6 L477.1 128.9 L477.3 128.7 L477.7 128.5 L478.0 125.9 L478.4 123.2 L478.7 122.8 L479.1 123.4 L479.4 121.6 L479.7 121.3 L480.0 118.4 L480.2 116.4 L480.4 114.9 L480.6 112.1 L480.8 109.5 L481.0 108.9 L481.1 107.5 L481.3 105.3 L481.4 103.7 L481.6 103.4 L481.8 101.2 L482.0 98.9 L482.2 97.5 L482.5 97.3 L482.7 96.0 L482.9 93.3 L483.2 92.1 L483.4 89.9 L483.7 89.3 L484.0 88.5 L484.2 86.0 L484.5 83.6 L484.8 81.9 L485.0 80.1 L485.3 78.2 L485.6 77.5 L485.9 75.8 L486.2 74.1 L486.5 72.4 L486.8 70.7 L487.1 69.4 L487.5 67.9 L488.0 66.1 L488.5 64.2 L489.1 62.4 L489.7 60.8 L490.5 59.9 L492.0 60.0 L493.5 61.0 L494.3 61.7 L495.0 62.8 L495.6 64.3 L496.1 66.1 L496.7 67.9 L497.2 69.9 L497.5 71.1 L497.8 72.3 L498.1 74.3 L498.4 76.0 L498.7 77.8 L498.9 78.6 L499.2 80.8 L499.5 82.3 L499.8 84.8 L500.1 85.2 L500.4 86.5 L500.7 88.4 L501.0 89.8 L501.3 91.4 L501.6 93.5 L501.9 95.2 L502.2 96.5 L502.5 97.3 L502.7 98.3 L503.0 100.1 L503.3 101.8 L503.6 104.3 L503.8 105.7 L504.1 106.2 L504.3 108.6 L504.5 110.2 L504.8 112.7 L505.0 113.6 L505.2 115.8 L505.4 115.9 L505.6 114.9 L505.8 115.4 L506.0 117.2 L506.2 120.4 L506.4 124.6 L506.6 125.1 L506.8 124.5 L507.0 128.9 L507.1 129.9 L507.2 130.3 L507.3 131.6 L507.4 133.2 L507.5 133.7 L507.6 134.1 L507.7 137.6 L507.8 137.5 L507.9 138.2 L508.0 141.0 L508.1 145.7 L508.1 148.1 L508.2 148.2 L508.3 146.7 L508.4 147.8 L508.5 150.9 L508.6 152.2 L508.7 153.1 L508.7 153.7 L508.8 155.5 L508.9 159.4 L509.0 162.2 L509.1 161.6 L509.2 164.8 L509.3 166.2 L509.4 166.3 L509.5 169.0 L509.6 170.6 L509.7 171.9 L509.8 174.4 L509.9 175.0 L510.0 176.2 L510.1 176.5 L510.2 178.5 L510.3 181.1 L510.5 182.2 L510.6 183.5 L510.7 185.7 L510.8 187.2 L511.0 188.0 L511.1 189.8 L511.2 192.3 L511.3 193.6 L511.5 194.0 L511.6 196.2 L511.7 197.9 L511.9 199.4 L512.0 200.7 L512.1 200.9 L512.3 201.4 L512.4 203.0 L512.5 205.2 L512.7 205.6 L512.8 208.2 L512.9 212.2 L513.1 213.0 L513.2 212.6 L513.3 212.9 L513.5 215.9 L513.6 219.0 L513.7 220.5 L513.9 222.2 L514.0 222.8 L514.1 223.8 L514.3 226.1 L514.4 227.5 L514.5 229.5 L514.6 231.4 L514.8 232.0 L514.9 232.2 L515.0 233.8 L515.2 237.3 L515.3 237.3 L515.4 239.0 L515.5 240.3 L515.7 245.1 L515.8 244.6 L515.9 246.2 L516.1 246.7 L516.2 252.6 L516.3 249.7 L516.4 251.7 L516.6 251.8 L516.7 255.5 L516.8 254.6 L517.0 256.6 L517.1 256.8 L517.2 259.9 L517.4 262.7 L517.5 266.3 L517.6 262.3 L517.7 267.4 L517.9 268.5 L518.0 269.0 L518.1 271.2 L518.3 273.6 L518.4 274.6 L518.5 275.8 L518.7 276.6 L518.8 279.0 L518.9 280.7 L519.1 281.2 L519.2 283.5 L519.4 285.9 L519.5 287.8 L519.6 288.6 L519.8 288.1 L519.9 291.5 L520.1 295.1 L520.2 297.1 L520.3 297.7 L520.5 299.4 L520.6 299.3 L520.7 299.4 L520.9 302.0 L521.0 303.9 L521.1 307.3 L521.3 308.6 L521.4 308.1 L521.5 309.4 L521.6 311.4 L521.8 313.4 L521.9 316.5 L522.0 316.2 L522.1 319.1 L522.3 317.2 L522.4 320.0 L522.5 324.8 L522.6 324.8 L522.8 326.0 L522.9 327.7 L523.0 328.5 L523.1 330.4 L523.2 332.1 L523.4 333.7 L523.5 334.8 L523.6 335.9 L523.7 337.6 L523.8 339.0 L524.0 341.2 L524.1 342.3 L524.2 344.1 L524.3 344.9 L524.4 345.5 L524.6 347.3 L524.7 349.6 L524.8 352.0 L524.9 353.6 L525.1 353.7 L525.2 355.2 L525.4 357.5 L525.5 359.5 L525.7 362.2 L525.8 364.5 L526.0 363.8 L526.2 363.0 L526.3 365.6 L526.5 368.3 L526.6 370.5 L526.8 371.6 L526.9 373.1 L527.1 373.9 L527.2 374.9 L527.4 377.3 L527.5 377.7 L527.6 382.1 L527.7 381.1 L527.8 381.5 L527.9 384.4 L528.0 383.5 L528.1 386.8 L528.2 389.7 L528.3 394.3 L528.4 396.7 L528.5 394.1 L528.6 395.7 L528.6 398.8 L528.7 398.8 L528.8 402.3 L528.9 405.6 L529.0 405.2 L529.1 405.3 L529.2 406.1 L529.3 408.2 L529.4 410.7 L529.5 414.3 L529.6 413.0 L529.7 413.4 L529.8 416.9 L529.9 419.5 L530.1 420.2 L530.2 421.2 L530.3 423.1 L530.5 424.9 L530.6 426.1 L531.0 427.7 L531.3 428.7 L531.7 428.5 L532.1 432.3 L532.6 432.8 L533.0 433.9 L533.3 435.4 L533.5 436.8 L533.8 438.1 L534.1 439.8 L534.4 440.7 L534.6 443.7 L534.9 447.5 L535.2 449.6 L535.5 449.6 L535.9 452.5 L536.2 452.3 L536.5 456.0 L536.8 456.9 L537.1 457.6 L537.4 458.3 L537.7 460.6 L538.0 461.6 L538.4 460.1 L538.8 462.3 L539.1 464.0 L539.5 467.4 L539.9 470.2 L540.2 470.9 L540.6 472.9 L541.1 473.1 L541.5 473.5 L542.0 475.6 L542.6 478.0 L543.2 478.8 L543.9 479.0 L544.6 481.9 L545.3 485.3 L546.0 484.7 L546.8 485.6 L547.5 485.9 L548.0 488.3 L548.5 488.7 L549.1 491.5 L549.6 495.1 L550.1 495.4 L550.7 494.9 L551.2 497.9 L551.8 496.8 L552.3 501.7 L552.9 501.7 L553.5 501.8 L554.0 503.8 L554.6 506.9 L555.1 509.8 L555.7 509.0 L556.2 508.7 L556.9 511.0 L557.6 512.8 L558.2 514.5 L558.9 516.4 L559.6 516.2 L560.2 518.5 L560.9 522.1 L561.6 523.1 L562.3 523.6 L563.0 523.9 L563.8 524.6 L564.6 526.7 L565.4 526.9 L566.2 527.1 L567.0 531.7 L567.8 531.5 L568.6 533.9 L569.4 535.4 L570.2 537.2 L571.0 538.8 L571.7 539.8 L572.4 540.5 L573.1 542.6 L573.8 542.9 L574.5 544.5 L575.3 544.9 L576.0 546.6 L576.8 547.9 L577.5 551.4 L578.3 551.0 L579.1 550.3 L579.9 551.3 L580.7 554.9 L581.6 557.1 L582.4 557.2 L583.5 559.3 L584.5 559.3 L585.6 559.7 L586.8 561.5 L588.0 564.3 L589.3 565.4 L590.8 565.4 L592.3 563.9 L593.7 565.2 L595.0 564.8 L595.9 566.2 L596.7 569.4 L597.3 569.9 L598.0 572.8 L598.7 574.5 L599.7 576.4 L601.3 575.2 L603.0 575.9 L604.9 575.3 L606.6 574.3 L608.1 570.8 L609.6 573.5 L611.0 570.2 L612.5 570.3 L614.4 568.5 L616.4 570.2 L618.3 570.3 L620.3 569.4 L622.2 569.8 L624.1 570.5 L625.6 572.7 L627.0 570.7 L628.4 574.1 L629.9 573.5 L631.3 575.2 L632.8 578.4 L634.3 577.8 L635.8 576.4 L637.8 577.5 L639.7 574.7 L641.6 574.7 L642.7 576.0 L643.7 577.3 L644.7 579.0 L645.6 580.2 L646.5 581.4 L647.4 581.8 L648.4 583.3 L649.2 585.2 L650.1 587.4 L651.0 588.0 L652.1 590.3 L653.3 594.1 L654.7 593.0 L656.1 594.5 L657.5 593.0 L659.0 595.0 L660.6 597.2 L662.2 599.0 L663.9 597.4 L665.5 597.7 L667.2 600.4 L668.8 600.0 L670.3 597.8 L671.9 599.3 L673.4 600.8 L675.0 599.8 L676.6 598.3 L678.2 597.2 L679.8 598.3 L681.4 600.8 L683.0 597.6 L684.3 596.4 L685.6 594.6 L686.9 594.5 L688.2 595.5 L689.6 595.2 L691.0 593.9 L692.4 590.9 L693.9 591.3 L695.4 595.1 L697.0 592.6 L698.5 591.3 L700.0 591.7 L701.4 590.5 L703.1 590.7 L704.8 589.2 L706.4 588.5 L708.0 590.2 L709.8 591.5 L711.6 590.5 L713.4 590.1 L715.1 588.5 L716.2 588.8 L717.2 592.1 L718.1 593.8 L719.0 594.1 L720.1 593.6 L721.3 597.1 L722.5 598.1 L723.9 597.9 L725.4 597.7 L727.0 598.0 L728.6 597.5 L730.1 596.5 L731.6 598.6 L732.9 599.1 L734.5 600.8 L736.0 600.9 L737.4 601.8 L738.7 602.1 L740.0 605.9 L741.3 606.9 L742.4 607.4 L743.6 609.3 L744.7 609.8 L746.0 609.9 L747.3 608.4 L748.7 610.8 L750.1 614.2 L751.6 613.3 L753.0 614.2 L754.7 614.3 L756.5 612.9 L758.2 614.1 L760.0 610.5" stroke="#7800F6"/>
<path d="M84.2 595.9 L85.5 593.1 L86.7 590.9 L87.9 587.4 L89.2 588.5 L90.4 587.9 L91.7 587.1 L92.9 585.8 L94.2 585.3 L95.5 583.6 L96.8 583.1 L98.1 584.7 L99.4 584.6 L100.7 583.3 L102.0 580.5 L103.3 578.8 L104.7 577.1 L106.0 577.8 L107.4 576.5 L108.7 574.5 L110.1 575.0 L111.4 576.7 L112.9 574.9 L114.3 571.8 L115.8 571.6 L117.3 572.6 L118.7 570.7 L120.2 569.5 L121.7 570.3 L123.1 571.4 L124.6 568.6 L126.0 566.2 L127.4 565.2 L128.8 562.7 L130.2 563.0 L131.6 563.3 L133.0 565.3 L134.4 563.6 L135.8 560.7 L137.2 562.7 L138.6 560.7 L139.9 557.9 L141.2 558.7 L142.6 558.2 L143.9 557.3 L145.3 557.4 L146.7 553.9 L148.0 556.1 L149.4 557.5 L150.7 556.8 L152.0 556.2 L153.3 555.4 L154.5 553.4 L155.7 550.6 L156.9 549.4 L158.0 546.7 L159.2 545.6 L160.3 546.6 L161.5 547.7 L162.6 545.2 L163.7 545.6 L164.8 541.5 L165.9 541.0 L166.9 539.5 L168.0 537.3 L169.0 538.6 L170.0 537.2 L171.0 534.6 L172.0 533.6 L173.0 534.0 L173.9 531.4 L174.9 530.0 L175.8 528.3 L176.7 525.5 L177.7 524.1 L178.6 524.1 L179.5 521.3 L180.5 522.0 L181.9 521.0 L183.3 519.3 L184.7 520.3 L186.1 520.4 L187.5 517.8 L188.9 514.2 L190.0 512.6 L191.1 513.8 L192.3 513.4 L193.4 512.1 L194.6 511.8 L195.7 510.5 L196.9 509.5 L198.1 509.3 L199.2 506.1 L200.4 506.7 L201.5 507.8 L202.7 504.0 L203.8 501.5 L205.0 502.0 L206.1 502.2 L207.3 500.5 L208.4 497.9 L209.6 496.2 L210.7 496.7 L211.9 495.7 L213.0 493.4 L214.1 492.4 L215.2 491.2 L216.2 491.6 L217.3 488.7 L218.4 489.2 L219.5 488.6 L220.6 486.5 L221.6 484.6 L222.6 485.2 L223.6 482.3 L224.5 482.3 L225.9 478.7 L227.1 477.8 L228.4 478.6 L229.6 477.2 L230.8 475.9 L231.6 473.7 L232.3 472.2 L233.1 471.8 L233.9 473.0 L234.7 472.0 L235.5 468.6 L236.3 467.4 L237.1 465.3 L237.8 463.6 L238.6 463.9 L239.3 460.4 L240.0 457.1 L240.6 457.0 L241.3 457.3 L241.9 456.5 L242.5 456.5 L243.0 452.5 L243.6 452.9 L244.2 451.1 L244.7 449.1 L245.3 448.8 L245.8 446.5 L246.4 443.9 L246.9 443.5 L247.5 440.3 L248.0 440.0 L248.5 438.9 L248.9 437.2 L249.4 435.0 L249.9 434.2 L250.3 433.4 L250.8 431.8 L251.2 429.3 L251.7 428.1 L252.1 425.8 L252.6 427.2 L253.0 425.5 L253.4 421.1 L253.9 421.5 L254.3 419.1 L254.7 418.1 L255.2 417.8 L255.6 415.2 L256.0 413.1 L256.5 411.4 L257.0 410.1 L257.5 406.6 L258.0 405.4 L258.5 406.0 L259.0 406.5 L259.5 405.0 L260.0 404.7 L260.5 401.4 L261.0 398.2 L261.5 396.3 L262.0 392.8 L262.5 392.4 L263.0 391.9 L263.6 392.1 L264.1 390.5 L264.6 387.7 L265.2 385.5 L265.7 384.1 L266.2 384.3 L266.7 383.4 L267.2 381.0 L267.7 382.0 L268.1 380.8 L268.4 377.7 L268.8 374.9 L269.2 373.3 L269.5 372.5 L269.9 371.2 L270.2 370.2 L270.6 369.4 L270.9 368.8 L271.3 367.0 L271.6 363.6 L271.9 362.2 L272.3 359.5 L272.6 358.5 L273.0 359.2 L273.3 356.4 L273.7 355.8 L274.0 352.6 L274.3 352.0 L274.7 350.5 L275.0 348.3 L275.4 346.3 L275.7 344.1 L276.1 342.6 L276.4 341.1 L276.8 341.8 L277.1 339.5 L277.5 339.0 L277.8 332.5 L278.2 333.4 L278.5 333.4 L278.9 331.0 L279.2 331.4 L279.6 329.2 L279.9 326.4 L280.3 326.6 L280.7 327.8 L281.1 323.0 L281.5 320.8 L281.9 318.6 L282.3 316.9 L282.7 314.6 L283.1 315.9 L283.5 316.5 L283.9 313.5 L284.4 311.9 L284.8 311.4 L285.1 309.8 L285.5 308.3 L285.9 307.2 L286.2 304.4 L286.6 302.8 L286.9 300.1 L287.2 295.9 L287.6 296.3 L287.9 294.4 L288.2 292.8 L288.5 291.2 L288.7 289.9 L289.0 292.3 L289.3 289.7 L289.5 286.6 L289.7 286.3 L290.0 283.4 L290.2 282.8 L290.4 281.1 L290.6 280.8 L290.8 275.2 L291.0 276.3 L291.1 273.9 L291.3 270.9 L291.4 271.8 L291.6 268.8 L291.7 270.0 L291.9 267.4 L292.0 265.7 L292.2 263.7 L292.3 261.5 L292.5 258.0 L292.7 257.9 L292.9 256.5 L293.0 255.6 L293.2 254.3 L293.4 252.3 L293.6 252.1 L293.8 252.9 L294.0 249.4 L294.2 246.2 L294.4 245.1 L294.6 245.0 L294.8 244.4 L295.0 239.5 L295.2 237.0 L295.4 235.0 L295.6 233.1 L295.8 231.1 L296.0 232.1 L296.2 229.3 L296.4 231.6 L296.5 229.1 L296.7 224.5 L296.9 222.7 L297.1 222.5 L297.3 222.9 L297.5 218.4 L297.7 216.4 L297.9 216.8 L298.1 215.5 L298.2 214.2 L298.4 214.2 L298.6 211.5 L298.8 209.0 L299.0 206.9 L299.2 205.7 L299.3 202.4 L299.5 201.3 L299.7 199.7 L299.9 198.5 L300.1 196.9 L300.3 198.4 L300.5 197.0 L300.7 195.3 L300.8 193.7 L301.0 189.0 L301.2 185.5 L301.4 186.6 L301.6 187.4 L301.8 185.1 L302.0 184.5 L302.2 182.8 L302.4 178.0 L302.6 179.3 L302.8 179.5 L303.0 174.0 L303.2 170.9 L303.4 171.5 L303.6 170.4 L303.8 169.1 L304.0 166.7 L304.2 164.6 L304.4 163.1 L304.6 165.1 L304.8 164.1 L305.0 160.0 L305.2 157.3 L305.4 154.1 L305.6 153.5 L305.8 153.6 L306.0 151.2 L306.2 150.6 L306.5 149.7 L306.7 149.0 L306.9 146.8 L307.1 144.7 L307.3 140.1 L307.5 139.1 L307.7 139.0 L307.9 138.8 L308.1 137.3 L308.3 137.2 L308.5 132.7 L308.7 131.9 L309.0 130.8 L309.2 129.1 L309.4 127.7 L309.6 126.5 L309.8 125.5 L310.0 123.6 L310.1 122.4 L310.3 120.9 L310.5 118.6 L310.6 116.3 L310.8 115.3 L310.9 113.9 L311.0 113.2 L311.2 110.8 L311.3 107.9 L311.5 106.5 L311.6 105.8 L311.8 104.1 L312.0 102.4 L312.2 101.2 L312.4 99.3 L312.7 98.2 L312.9 97.4 L313.2 95.8 L313.4 94.0 L313.7 92.8 L313.9 91.2 L314.2 88.8 L314.5 87.6 L314.7 86.9 L315.0 85.9 L315.3 84.9 L315.6 82.9 L315.9 80.9 L316.2 79.0 L316.5 77.8 L316.8 76.6 L317.1 75.4 L317.5 73.0 L317.9 71.4 L318.3 69.9 L318.7 68.1 L319.2 66.3 L319.7 64.9 L320.5 63.1 L321.4 61.6 L322.5 60.7 L324.0 59.8 L325.6 59.7 L327.0 60.5 L328.2 62.0 L328.8 63.2 L329.4 64.8 L329.9 66.7 L330.4 68.1 L330.9 69.8 L331.4 71.4 L331.8 72.8 L332.3 74.7 L332.7 77.0 L333.1 78.8 L333.5 80.2 L333.9 82.2 L334.3 83.2 L334.6 84.8 L334.9 86.6 L335.3 88.2 L335.6 89.1 L335.9 91.8 L336.2 94.3 L336.5 96.4 L336.8 97.1 L337.0 99.7 L337.3 100.6 L337.6 100.8 L337.8 103.7 L338.1 105.1 L338.4 107.0 L338.6 109.2 L338.9 110.6 L339.2 111.6 L339.4 114.3 L339.7 115.2 L340.0 116.5 L340.2 119.1 L340.5 119.3 L340.7 120.3 L340.9 121.3 L341.0 122.6 L341.2 126.3 L341.4 128.4 L341.6 128.1 L341.8 129.3 L341.9 130.6 L342.1 134.5 L342.3 137.0 L342.5 136.7 L342.7 137.5 L342.9 138.5 L343.1 139.4 L343.3 140.8 L343.5 142.4 L343.7 145.2 L343.9 147.9 L344.1 149.5 L344.3 150.0 L344.5 149.9 L344.7 151.9 L345.0 153.4 L345.2 156.6 L345.4 158.8 L345.6 160.2 L345.9 160.2 L346.1 159.7 L346.4 163.9 L346.6 166.8 L346.9 165.2 L347.1 167.7 L347.4 171.0 L347.7 170.3 L348.0 174.5 L348.2 173.9 L348.5 174.1 L348.8 178.7 L349.0 179.2 L349.3 179.3 L349.5 182.3 L349.8 180.5 L350.0 186.7 L350.3 185.1 L350.5 187.7 L350.8 188.5 L351.0 191.3 L351.2 193.2 L351.4 192.6 L351.6 195.9 L351.8 196.0 L351.9 196.8 L352.1 198.7 L352.2 199.2 L352.3 201.4 L352.5 205.2 L352.6 205.8 L352.7 208.8 L352.9 209.0 L353.0 207.9 L353.2 208.3 L353.3 211.8 L353.5 214.7 L353.6 215.8 L353.8 216.7 L354.0 219.6 L354.2 217.7 L354.3 220.1 L354.5 224.4 L354.7 228.2 L354.9 227.0 L355.1 227.0 L355.3 230.5 L355.5 232.4 L355.7 233.6 L355.9 233.2 L356.2 234.5 L356.4 237.3 L356.6 240.0 L356.8 243.2 L357.0 243.8 L357.2 242.1 L357.4 243.7 L357.6 245.7 L357.8 247.5 L358.0 249.9 L358.2 251.4 L358.4 253.2 L358.6 254.9 L358.8 254.2 L359.0 254.1 L359.2 255.3 L359.4 257.2 L359.6 258.3 L359.7 259.9 L359.9 264.3 L360.1 265.3 L360.3 265.7 L360.5 266.2 L360.7 267.7 L360.8 271.3 L361.0 273.4 L361.1 272.3 L361.2 276.5 L361.3 278.4 L361.5 279.2 L361.6 281.8 L361.7 281.3 L361.8 285.7 L361.9 287.3 L362.1 286.4 L362.2 289.1 L362.4 292.5 L362.6 295.0 L362.8 295.9 L363.0 295.5 L363.2 295.4 L363.5 296.6 L364.0 300.0 L364.6 300.7 L365.2 301.5 L365.8 304.0 L366.4 305.9 L367.0 307.2 L367.7 307.3 L368.3 308.7 L369.0 310.0 L369.6 312.7 L370.2 317.6 L370.7 320.9 L371.1 318.8 L371.5 320.6 L371.9 320.6 L372.4 322.5 L373.0 323.1 L373.7 327.9 L374.4 329.9 L375.2 329.3 L376.0 329.8 L376.9 333.4 L377.9 333.3 L378.9 334.5 L380.0 334.0 L381.0 336.0 L382.1 339.4 L383.2 339.9 L384.4 340.3 L385.5 340.5 L386.5 343.4 L387.5 344.1 L388.6 344.6 L389.9 345.6 L391.0 348.2 L392.3 349.4 L393.7 349.5 L395.2 351.2 L396.7 352.6 L398.2 352.0 L399.7 351.0 L401.1 350.8 L402.7 351.4 L404.4 352.4 L406.0 352.8 L407.6 350.5 L409.3 350.2 L410.9 349.7 L412.3 350.6 L413.7 348.8 L415.1 348.1 L416.5 346.6 L417.9 346.0 L419.3 347.1 L420.7 346.7 L422.1 344.4 L423.5 342.2 L425.0 341.7 L426.4 343.1 L427.9 343.4 L429.3 338.3 L430.7 338.0 L432.0 337.6 L433.3 335.3 L434.4 335.0 L435.5 335.7 L436.5 333.0 L437.6 332.3 L438.6 333.0 L439.6 332.0 L440.5 329.0 L441.4 331.3 L442.2 327.3 L443.0 324.1 L443.8 324.2 L444.4 321.2 L445.1 321.1 L445.6 318.2 L446.2 318.4 L446.7 316.6 L447.2 316.5 L447.8 314.3 L448.3 311.9 L448.7 311.2 L449.0 308.1 L449.4 306.4 L449.8 306.8 L450.1 305.7 L450.5 304.8 L450.8 305.7 L451.2 303.9 L451.5 299.9 L451.9 298.0 L452.2 297.2 L452.6 292.2 L452.9 294.0 L453.2 289.4 L453.6 285.3 L453.9 285.6 L454.2 285.6 L454.6 284.5 L454.9 283.3 L455.2 281.9 L455.5 279.5 L455.8 276.1 L456.1 275.5 L456.4 276.3 L456.8 273.5 L457.1 269.4 L457.4 268.0 L457.6 270.4 L457.9 267.0 L458.2 264.5 L458.5 263.0 L458.8 263.5 L459.1 260.2 L459.4 257.8 L459.7 255.8 L459.9 256.6 L460.2 256.7 L460.5 254.0 L460.7 253.7 L461.0 251.4 L461.3 249.6 L461.6 248.0 L461.9 246.8 L462.2 246.0 L462.5 243.3 L462.7 241.0 L463.0 240.0 L463.3 238.8 L463.6 237.6 L463.8 235.9 L464.1 233.1 L464.4 231.7 L464.6 232.2 L464.9 228.9 L465.2 229.0 L465.5 227.4 L465.7 224.4 L466.0 221.0 L466.2 222.0 L466.5 219.3 L466.7 217.7 L467.0 217.5 L467.3 214.2 L467.5 212.1 L467.8 210.5 L468.0 210.8 L468.3 210.4 L468.5 208.7 L468.8 206.7 L469.1 204.4 L469.3 202.8 L469.6 202.6 L469.8 201.3 L470.0 196.6 L470.2 194.4 L470.4 195.7 L470.6 193.9 L470.9 191.1 L471.1 190.7 L471.3 188.8 L471.5 188.4 L471.7 188.8 L471.9 185.5 L472.1 184.1 L472.3 181.3 L472.5 178.7 L472.7 178.5 L472.9 177.5 L473.1 175.1 L473.3 174.8 L473.5 170.5 L473.7 169.1 L473.9 167.7 L474.1 169.1 L474.3 168.0 L474.5 165.7 L474.7 161.7 L474.9 161.9 L475.1 160.0 L475.3 156.3 L475.5 156.5 L475.7 156.5 L476.0 154.7 L476.2 153.0 L476.4 151.2 L476.6 149.2 L476.8 146.9 L477.0 144.2 L477.2 143.4 L477.4 142.9 L477.6 144.0 L477.8 140.1 L478.0 137.8 L478.2 136.1 L478.4 134.8 L478.6 133.4 L478.8 133.1 L479.0 131.5 L479.2 130.7 L479.5 127.5 L479.9 126.9 L480.2 125.4 L480.5 122.0 L480.8 121.8 L481.2 120.2 L481.4 117.9 L481.7 115.4 L481.9 114.6 L482.1 114.2 L482.2 111.3 L482.4 110.3 L482.5 108.9 L482.6 107.3 L482.8 107.1 L482.9 105.5 L483.0 103.5 L483.2 101.0 L483.3 98.8 L483.4 98.7 L483.6 97.5 L483.8 95.5 L483.9 94.8 L484.1 93.0 L484.2 91.0 L484.4 89.6 L484.5 88.1 L484.7 86.3 L484.8 84.8 L485.0 84.1 L485.2 82.4 L485.3 79.3 L485.5 77.9 L485.6 77.0 L485.8 75.2 L485.9 73.6 L486.1 71.8 L486.3 70.3 L486.5 68.8 L486.7 67.4 L487.0 66.1 L487.4 64.2 L487.9 62.0 L488.4 60.3 L488.9 59.1 L489.5 58.5 L490.2 58.9 L491.0 60.4 L491.8 62.4 L492.5 64.2 L492.9 65.3 L493.3 66.7 L493.7 68.0 L494.0 69.6 L494.4 71.4 L494.7 73.1 L495.0 75.1 L495.3 76.3 L495.7 77.9 L496.0 79.8 L496.3 81.9 L496.6 82.9 L496.9 84.2 L497.2 85.5 L497.5 86.9 L497.8 88.7 L498.1 91.2 L498.4 92.8 L498.7 94.0 L499.0 95.8 L499.2 97.5 L499.5 96.9 L499.8 98.5 L500.2 101.3 L500.5 103.4 L500.8 104.0 L501.1 106.5 L501.4 109.3 L501.7 108.5 L502.0 109.7 L502.2 110.6 L502.4 114.1 L502.6 116.4 L502.8 117.9 L503.0 119.5 L503.2 121.5 L503.3 121.8 L503.5 123.8 L503.7 123.0 L503.8 125.2 L504.0 127.4 L504.1 128.7 L504.2 131.5 L504.3 133.9 L504.4 133.9 L504.5 133.5 L504.6 134.3 L504.7 137.3 L504.8 138.9 L504.8 139.1 L504.9 141.0 L505.0 142.6 L505.1 145.1 L505.2 146.3 L505.3 145.8 L505.4 149.1 L505.5 151.8 L505.6 153.2 L505.6 154.2 L505.7 156.6 L505.8 159.3 L505.9 161.0 L506.0 160.0 L506.1 161.5 L506.2 164.0 L506.3 165.7 L506.4 166.6 L506.5 165.7 L506.6 168.3 L506.7 172.4 L506.8 174.5 L506.9 176.9 L507.0 178.1 L507.1 177.9 L507.2 180.0 L507.3 181.2 L507.5 183.6 L507.6 184.7 L507.7 185.9 L507.8 187.2 L508.0 188.1 L508.1 187.8 L508.2 190.2 L508.3 189.7 L508.5 194.1 L508.6 197.6 L508.7 200.6 L508.9 200.0 L509.0 199.2 L509.1 199.6 L509.3 205.4 L509.4 203.5 L509.5 206.9 L509.7 204.6 L509.8 208.8 L509.9 212.0 L510.1 213.1 L510.2 213.7 L510.3 213.9 L510.5 215.6 L510.6 219.9 L510.7 220.8 L510.9 221.4 L511.0 223.0 L511.1 223.6 L511.3 227.8 L511.4 229.2 L511.5 228.3 L511.6 231.0 L511.8 233.3 L511.9 233.9 L512.0 238.4 L512.2 238.8 L512.3 238.7 L512.4 241.7 L512.5 242.7 L512.7 241.8 L512.8 244.7 L512.9 245.6 L513.1 247.5 L513.2 249.1 L513.3 248.8 L513.4 249.2 L513.6 251.7 L513.7 255.2 L513.8 257.0 L514.0 257.8 L514.1 259.4 L514.2 262.0 L514.4 264.0 L514.5 263.9 L514.6 264.7 L514.7 267.7 L514.9 268.9 L515.0 269.2 L515.1 271.0 L515.3 272.1 L515.4 274.8 L515.5 274.2 L515.7 279.2 L515.8 279.0 L515.9 279.5 L516.1 282.3 L516.2 283.2 L516.3 287.3 L516.5 288.0 L516.6 289.1 L516.8 292.4 L516.9 292.3 L517.0 294.7 L517.2 297.4 L517.3 299.8 L517.4 299.2 L517.6 301.7 L517.7 302.0 L517.8 301.3 L518.0 303.5 L518.1 303.8 L518.2 307.3 L518.4 312.3 L518.5 312.4 L518.6 314.8 L518.7 314.3 L518.9 315.3 L519.0 316.3 L519.2 317.0 L519.5 319.2 L519.7 321.5 L519.9 324.7 L520.2 324.7 L520.4 325.8 L520.6 326.9 L520.8 328.2 L521.0 328.6 L521.1 331.8 L521.3 332.9 L521.4 334.1 L521.5 335.8 L521.6 338.5 L521.7 340.2 L521.8 340.9 L521.9 342.5 L522.0 344.4 L522.0 346.7 L522.1 348.1 L522.2 351.0 L522.3 352.8 L522.4 352.2 L522.5 352.2 L522.6 357.7 L522.6 359.0 L522.7 357.2 L522.8 357.5 L522.9 358.7 L522.9 362.4 L523.0 363.9 L523.1 365.5 L523.1 364.7 L523.2 368.8 L523.3 370.3 L523.4 370.6 L523.4 372.5 L523.5 374.2 L523.6 375.4 L523.6 377.3 L523.7 378.6 L523.8 380.2 L523.9 383.0 L523.9 383.9 L524.0 385.3 L524.1 386.2 L524.2 389.1 L524.3 388.9 L524.4 391.8 L524.5 389.0 L524.6 392.0 L524.7 393.6 L524.9 398.9 L525.0 399.6 L525.1 398.6 L525.3 401.5 L525.4 405.7 L525.6 405.7 L525.7 407.1 L525.9 405.8 L526.1 408.1 L526.3 413.2 L526.5 415.7 L526.7 414.6 L527.0 416.2 L527.2 417.6 L527.5 420.0 L527.8 419.9 L528.0 420.1 L528.3 421.8 L528.6 425.2 L528.8 428.3 L529.1 428.2 L529.3 430.4 L529.5 431.5 L529.8 432.4 L530.0 432.9 L530.3 433.1 L530.6 435.7 L530.8 441.4 L531.1 439.2 L531.3 441.8 L531.5 444.6 L531.7 442.8 L531.9 447.0 L532.1 447.9 L532.2 450.4 L532.3 452.5 L532.3 452.9 L532.3 454.7 L532.3 457.2 L532.2 458.0 L532.2 458.0 L532.1 459.5 L532.1 460.8 L532.1 464.3 L532.2 463.9 L532.3 467.8 L532.5 470.6 L532.6 470.5 L532.8 470.4 L533.0 471.7 L533.3 475.2 L533.5 477.1 L533.8 478.5 L534.1 483.4 L534.5 480.2 L534.8 481.7 L535.2 483.6 L535.6 485.7 L536.0 487.1 L536.5 487.7 L537.6 490.2 L538.8 491.2 L539.9 490.4 L541.0 490.1 L541.5 494.4 L541.9 493.8 L542.3 495.2 L542.6 497.3 L542.9 497.4 L543.2 499.6 L543.5 502.6 L543.8 504.1 L544.1 505.7 L544.4 506.5 L544.7 507.9 L545.0 509.4 L545.4 512.2 L545.8 513.5 L546.1 513.4 L546.5 516.4 L546.9 519.2 L547.3 521.9 L547.7 521.7 L548.1 522.2 L548.5 523.9 L549.0 528.3 L549.6 526.1 L550.3 527.5 L550.9 528.9 L551.6 531.0 L552.3 534.3 L553.0 535.2 L553.8 535.5 L554.6 536.7 L555.4 540.3 L556.2 542.8 L557.0 546.7 L557.8 544.4 L558.6 543.2 L559.4 546.3 L560.2 549.0 L561.0 550.1 L561.8 551.7 L562.6 552.4 L563.4 555.6 L564.2 557.0 L565.0 555.0 L566.0 556.0 L567.0 561.2 L568.0 562.2 L569.0 562.1 L570.0 562.7 L571.0 566.6 L572.0 566.9 L573.0 567.3 L574.0 568.5 L575.0 570.3 L576.0 573.3 L577.0 575.0 L578.0 572.1 L579.0 574.7 L580.0 577.6 L581.0 577.6 L582.0 578.5 L583.0 580.5 L584.0 581.8 L585.0 582.8 L586.3 584.8 L587.6 587.8 L589.0 588.8 L590.3 589.3 L591.6 589.1 L593.0 589.4 L594.3 591.5 L595.7 592.6 L597.0 593.5 L599.0 593.9 L601.0 594.3 L602.6 593.3 L604.3 593.8 L606.0 594.5 L607.5 596.4 L609.0 595.0 L610.5 595.8 L612.0 595.4 L613.5 596.7 L615.0 597.3 L616.5 596.2 L618.0 596.6 L619.7 597.3 L621.5 597.9 L623.2 597.3 L625.0 597.2 L626.7 596.7 L628.5 598.7 L630.2 598.9 L632.0 599.2 L633.6 599.7 L635.2 598.9 L636.8 599.0 L638.4 596.5 L640.0 597.3 L641.4 596.8 L642.7 598.5 L644.0 601.2 L645.4 603.9 L646.7 603.6 L648.0 600.9 L649.3 602.6 L650.7 606.2 L652.0 606.1 L653.3 608.4 L654.6 605.8 L656.0 605.9 L657.6 605.5 L659.2 608.1 L660.8 609.6 L662.4 608.9 L664.0 610.4 L665.6 610.4 L667.2 609.3 L668.8 608.8 L670.4 611.0 L672.0 607.4 L673.6 609.6 L675.2 611.6 L676.7 610.9 L678.3 610.5 L680.0 606.4 L681.5 608.0 L683.0 607.5 L684.6 607.9 L686.1 608.1 L687.7 606.2 L689.4 607.2 L691.0 604.2 L692.5 606.2 L694.1 603.7 L695.7 601.3 L697.3 600.8 L698.9 601.4 L700.4 603.2 L702.0 605.3 L703.5 605.4 L705.1 602.7 L706.6 600.7 L708.1 602.9 L709.5 603.1 L711.0 604.9 L712.5 605.7 L714.0 610.1 L715.5 605.1 L717.0 607.8 L718.5 610.6 L720.0 607.4 L721.5 607.2 L723.0 610.3 L724.5 605.3 L726.0 605.7 L727.5 607.5 L729.0 610.4 L730.5 611.3 L732.0 611.6 L733.5 613.5 L735.0 611.3 L736.7 611.4 L738.3 612.8 L739.9 613.2 L741.5 612.5 L743.2 615.4 L745.0 615.8 L746.4 615.1 L747.8 611.8 L749.3 611.8 L750.8 613.2 L752.3 613.6 L753.9 613.5 L755.4 614.1 L757.0 615.2 L758.5 613.4 L760.0 614.9" stroke="#0000E0"/>
<path d="M84.2 600.7 L85.5 600.1 L86.8 597.6 L88.1 598.4 L89.4 595.7 L90.7 593.7 L92.0 594.6 L93.3 595.1 L94.6 593.1 L96.0 592.1 L97.3 592.2 L98.7 591.4 L100.0 590.7 L101.3 588.5 L102.7 588.1 L104.0 587.6 L105.3 588.6 L106.7 588.1 L108.0 586.0 L109.3 583.7 L110.7 583.7 L112.0 583.4 L113.3 581.4 L114.7 584.4 L116.0 582.8 L117.3 582.8 L118.7 578.9 L120.0 580.7 L121.3 576.3 L122.7 576.1 L124.0 577.2 L125.3 575.2 L126.7 571.0 L128.0 572.5 L129.3 575.1 L130.7 575.3 L132.0 572.4 L133.3 570.8 L134.7 569.3 L136.0 568.1 L137.3 566.6 L138.7 566.0 L140.0 566.0 L141.3 566.2 L142.7 564.9 L144.0 565.3 L145.3 563.9 L146.7 563.8 L148.0 563.1 L149.4 559.0 L150.7 559.6 L152.1 559.2 L153.4 557.2 L154.7 556.9 L156.0 554.9 L157.2 556.0 L158.3 555.1 L159.5 555.5 L160.6 554.0 L161.7 550.8 L162.9 548.4 L164.0 548.1 L165.1 545.7 L166.3 547.2 L167.4 544.1 L168.6 544.7 L169.7 545.3 L170.9 542.7 L172.0 541.5 L173.1 539.8 L174.3 538.6 L175.4 536.7 L176.6 534.1 L177.7 534.7 L178.9 534.4 L180.0 531.0 L181.1 528.8 L182.3 527.2 L183.4 525.2 L184.6 525.6 L185.7 526.9 L186.8 525.5 L188.0 521.9 L189.1 522.8 L190.3 521.9 L191.4 520.7 L192.6 519.9 L193.7 518.9 L194.9 517.4 L196.0 517.9 L197.1 516.6 L198.3 514.1 L199.4 513.0 L200.6 511.3 L201.7 511.9 L202.9 511.9 L204.0 511.0 L205.3 509.6 L206.7 508.2 L208.0 507.9 L209.3 505.2 L210.7 503.7 L212.0 502.9 L213.3 502.0 L214.7 503.6 L216.0 499.2 L217.3 496.5 L218.7 495.5 L220.0 497.1 L221.2 497.4 L222.3 494.1 L223.5 494.0 L224.7 492.1 L225.8 492.1 L226.9 492.5 L228.0 488.0 L228.9 486.0 L229.8 487.3 L230.7 486.2 L231.5 485.1 L232.4 482.7 L233.2 478.7 L234.0 478.6 L234.7 478.3 L235.4 475.5 L236.0 473.7 L236.8 473.9 L237.4 474.1 L237.9 472.2 L238.6 471.0 L239.1 469.0 L239.7 465.9 L240.3 464.0 L240.9 462.6 L241.5 461.7 L242.2 460.0 L242.8 459.4 L243.4 457.4 L244.0 456.8 L244.6 456.7 L245.1 456.2 L245.7 453.8 L246.2 450.9 L246.7 448.8 L247.2 448.4 L247.7 448.3 L248.2 444.9 L248.7 443.7 L249.1 441.4 L249.6 439.7 L250.1 438.6 L250.5 436.6 L251.0 436.5 L251.4 431.7 L251.8 431.1 L252.3 430.3 L252.7 428.1 L253.1 427.6 L253.6 424.6 L254.0 424.0 L254.4 421.8 L254.9 422.2 L255.3 422.8 L255.7 422.2 L256.1 420.1 L256.6 417.8 L257.0 416.8 L257.4 414.3 L257.9 411.0 L258.3 408.4 L258.7 408.2 L259.2 408.3 L259.6 405.1 L260.1 403.2 L260.5 401.6 L261.0 400.2 L261.4 398.2 L261.9 396.2 L262.4 397.6 L262.9 392.1 L263.4 392.2 L263.9 392.8 L264.5 391.5 L265.1 388.7 L265.6 387.2 L266.2 385.9 L266.7 385.2 L267.3 382.9 L267.9 380.0 L268.4 378.9 L268.9 378.6 L269.5 379.1 L270.0 378.2 L270.5 373.3 L271.1 369.9 L271.6 369.7 L272.1 371.9 L272.6 368.2 L273.1 368.2 L273.6 366.6 L274.1 362.8 L274.5 361.2 L275.0 359.1 L275.5 359.0 L275.9 358.9 L276.4 354.9 L276.8 354.5 L277.2 353.2 L277.6 351.7 L278.0 350.1 L278.4 346.8 L278.7 345.9 L279.1 344.3 L279.4 346.9 L279.7 346.4 L280.0 341.5 L280.4 337.9 L280.7 339.6 L281.0 336.8 L281.3 338.2 L281.6 337.3 L281.9 334.5 L282.3 329.7 L282.6 327.2 L282.9 326.3 L283.2 325.1 L283.6 324.1 L283.9 324.5 L284.2 322.2 L284.5 319.9 L284.9 318.6 L285.4 318.3 L285.8 313.4 L286.2 312.9 L286.6 311.2 L287.0 308.8 L287.3 308.0 L287.5 307.9 L287.7 308.3 L287.9 304.3 L288.1 301.4 L288.3 299.8 L288.5 298.8 L288.8 296.7 L288.9 296.5 L289.1 295.5 L289.3 293.5 L289.4 291.6 L289.6 290.7 L289.8 290.8 L289.9 288.5 L290.1 287.1 L290.3 285.8 L290.5 283.4 L290.7 282.4 L290.9 280.4 L291.1 280.8 L291.3 277.6 L291.5 273.5 L291.7 274.3 L291.9 273.2 L292.2 270.3 L292.4 269.8 L292.6 266.3 L292.8 265.6 L293.0 265.1 L293.2 263.0 L293.4 258.9 L293.6 258.7 L293.8 257.9 L294.0 255.5 L294.2 256.7 L294.4 253.5 L294.6 248.9 L294.8 251.8 L295.0 250.9 L295.2 248.2 L295.4 248.9 L295.5 245.0 L295.7 244.1 L295.9 241.1 L296.1 238.7 L296.3 238.4 L296.5 237.7 L296.7 236.8 L296.9 235.0 L297.1 230.8 L297.3 230.1 L297.4 231.4 L297.6 228.1 L297.8 226.0 L298.0 226.2 L298.2 224.9 L298.4 222.5 L298.6 218.5 L298.8 217.5 L299.0 217.6 L299.1 215.5 L299.3 211.5 L299.5 210.8 L299.7 210.3 L299.9 209.0 L300.1 207.9 L300.3 208.1 L300.5 205.0 L300.7 205.0 L300.9 203.3 L301.1 200.5 L301.2 197.9 L301.4 196.4 L301.6 193.1 L301.8 192.4 L302.0 191.0 L302.2 188.4 L302.4 189.4 L302.6 186.4 L302.8 183.0 L303.0 183.4 L303.2 181.1 L303.4 180.0 L303.6 177.6 L303.8 177.2 L304.0 177.5 L304.1 174.7 L304.3 171.1 L304.5 170.5 L304.7 170.2 L304.9 169.3 L305.0 167.1 L305.2 166.8 L305.4 166.5 L305.6 163.3 L305.9 160.1 L306.1 158.4 L306.3 157.3 L306.5 154.7 L306.8 153.9 L307.0 153.3 L307.2 150.2 L307.4 148.7 L307.6 148.5 L307.8 147.1 L308.0 142.8 L308.2 142.1 L308.4 143.9 L308.6 140.8 L308.8 137.8 L309.0 137.8 L309.3 138.5 L309.5 133.7 L309.7 131.5 L310.0 131.6 L310.2 131.8 L310.4 128.1 L310.6 128.0 L310.8 127.1 L311.0 124.8 L311.2 122.4 L311.3 121.7 L311.4 120.1 L311.5 119.0 L311.6 117.0 L311.7 114.5 L311.8 112.1 L311.9 112.0 L312.1 109.1 L312.3 107.3 L312.5 107.2 L312.7 105.8 L312.9 102.9 L313.1 100.9 L313.3 100.1 L313.6 98.7 L313.8 96.4 L314.1 95.9 L314.4 95.1 L314.6 93.6 L314.9 91.6 L315.2 90.0 L315.5 89.0 L315.8 87.0 L316.1 85.1 L316.4 83.8 L316.7 82.4 L317.0 80.6 L317.3 78.5 L317.6 76.9 L318.0 75.7 L318.3 74.4 L318.6 73.1 L319.0 70.7 L319.5 69.1 L319.9 67.5 L320.4 66.1 L320.9 64.6 L321.5 63.1 L322.4 61.0 L323.5 59.2 L324.6 57.7 L325.6 57.1 L326.5 57.8 L327.4 59.4 L328.2 61.0 L329.0 62.9 L329.6 64.5 L330.1 66.0 L330.6 67.3 L331.1 69.1 L331.6 71.2 L332.1 72.7 L332.5 74.1 L332.8 75.6 L333.2 77.1 L333.5 78.7 L333.9 80.2 L334.3 81.8 L334.6 83.7 L335.0 85.4 L335.3 87.0 L335.7 88.1 L336.0 89.8 L336.3 91.8 L336.6 93.7 L336.9 95.4 L337.1 97.5 L337.4 97.4 L337.7 99.3 L337.9 101.0 L338.1 102.1 L338.4 103.8 L338.6 105.3 L338.8 107.8 L339.1 110.4 L339.3 111.0 L339.6 112.4 L339.8 113.4 L340.1 114.8 L340.4 117.2 L340.6 120.7 L340.9 123.0 L341.1 123.1 L341.4 124.0 L341.6 125.4 L341.8 127.6 L342.0 128.7 L342.1 127.4 L342.3 129.8 L342.5 131.5 L342.6 134.4 L342.8 134.4 L342.9 137.0 L343.1 136.7 L343.3 139.9 L343.5 143.7 L343.7 143.2 L343.9 142.4 L344.1 143.8 L344.3 147.3 L344.5 149.5 L344.8 149.9 L345.0 152.5 L345.2 155.7 L345.5 154.7 L345.7 156.5 L346.0 157.7 L346.2 161.9 L346.5 162.0 L346.7 161.9 L347.0 163.1 L347.3 167.0 L347.5 167.9 L347.8 169.7 L348.1 171.3 L348.3 171.6 L348.6 172.2 L348.9 175.7 L349.2 179.7 L349.5 180.5 L349.8 180.6 L350.1 181.1 L350.4 182.4 L350.7 184.5 L350.9 185.6 L351.2 188.5 L351.4 190.9 L351.6 194.3 L351.8 193.7 L351.9 195.9 L352.1 196.2 L352.3 199.9 L352.4 202.0 L352.5 199.7 L352.7 201.5 L352.8 204.8 L353.0 205.4 L353.1 207.1 L353.2 209.3 L353.4 211.6 L353.5 213.0 L353.7 212.8 L353.8 212.9 L354.0 213.4 L354.2 215.7 L354.4 220.0 L354.6 219.4 L354.8 222.3 L355.0 226.0 L355.2 227.1 L355.4 229.8 L355.6 230.6 L355.8 232.4 L356.0 231.0 L356.2 233.2 L356.5 237.4 L356.7 237.2 L356.9 237.9 L357.1 239.9 L357.3 243.1 L357.5 243.5 L357.7 244.2 L357.9 245.0 L358.1 246.8 L358.3 248.3 L358.5 250.4 L358.8 251.4 L359.0 252.1 L359.2 254.9 L359.4 255.9 L359.6 258.8 L359.8 261.7 L360.0 260.7 L360.1 262.8 L360.3 264.1 L360.5 265.7 L360.7 267.1 L360.9 268.6 L361.0 269.1 L361.2 271.6 L361.3 273.5 L361.5 276.6 L361.6 277.5 L361.8 276.7 L362.0 278.7 L362.1 279.6 L362.3 281.7 L362.5 285.0 L362.8 287.6 L363.0 287.1 L363.3 287.0 L363.5 290.7 L363.8 293.9 L364.1 292.1 L364.4 291.9 L364.8 293.7 L365.2 297.3 L365.6 299.6 L366.1 299.8 L366.5 302.0 L367.0 304.8 L367.5 305.5 L368.0 305.5 L368.7 308.1 L369.4 310.7 L370.1 308.6 L370.7 312.2 L371.3 316.7 L371.8 316.8 L372.1 316.3 L372.4 317.4 L372.8 320.6 L373.3 324.5 L373.9 323.8 L374.6 325.7 L375.4 330.3 L376.2 330.9 L377.0 329.1 L377.7 330.9 L378.5 333.1 L379.3 335.8 L380.2 337.8 L381.0 335.8 L381.9 338.0 L382.8 339.7 L383.8 340.5 L384.8 340.9 L385.7 343.6 L386.7 345.2 L387.6 347.4 L388.4 349.8 L389.2 349.7 L389.9 351.4 L390.7 352.8 L391.6 353.8 L392.5 354.0 L394.2 354.3 L396.0 357.7 L398.0 358.3 L399.5 357.6 L401.1 356.6 L402.9 357.9 L404.7 358.3 L406.4 358.6 L408.1 360.0 L409.5 357.6 L410.9 357.3 L412.3 357.8 L413.7 357.1 L415.1 356.7 L416.5 357.1 L417.9 354.8 L419.3 352.8 L420.8 352.9 L422.3 353.0 L423.7 351.7 L425.2 351.3 L426.5 352.2 L427.7 352.4 L429.2 348.0 L430.5 347.2 L431.8 345.4 L433.0 344.8 L434.0 345.6 L435.0 342.4 L436.0 342.7 L437.0 341.4 L437.9 341.0 L438.8 337.6 L439.7 337.8 L440.6 336.2 L441.4 335.0 L442.2 333.7 L443.0 333.4 L443.8 331.2 L444.7 328.5 L445.5 327.2 L446.3 325.5 L447.1 325.4 L447.6 321.0 L448.1 318.5 L448.6 318.9 L449.1 317.0 L449.6 317.8 L450.1 316.0 L450.6 313.6 L451.1 310.7 L451.6 308.1 L452.0 306.4 L452.5 305.5 L452.9 303.1 L453.3 304.3 L453.6 302.3 L454.0 297.4 L454.3 294.4 L454.6 297.3 L454.9 292.4 L455.2 289.0 L455.5 290.0 L455.8 291.6 L456.1 291.1 L456.4 289.8 L456.7 289.0 L457.0 287.5 L457.3 282.8 L457.6 280.4 L457.9 278.7 L458.3 277.9 L458.6 276.2 L458.9 275.7 L459.3 276.2 L459.6 271.8 L459.9 271.4 L460.3 267.6 L460.6 265.6 L460.9 267.5 L461.2 264.7 L461.5 263.6 L461.8 263.1 L462.1 258.6 L462.4 259.1 L462.6 258.4 L462.8 254.6 L463.0 254.7 L463.3 254.2 L463.5 252.6 L463.7 250.9 L463.9 249.3 L464.1 247.5 L464.2 245.6 L464.5 242.5 L464.7 241.0 L464.9 239.9 L465.1 239.9 L465.3 237.6 L465.6 235.7 L465.8 234.0 L466.0 232.9 L466.3 229.9 L466.5 229.3 L466.8 226.5 L467.0 225.2 L467.3 223.4 L467.5 226.4 L467.8 222.5 L468.0 218.7 L468.3 218.0 L468.6 217.1 L468.8 215.4 L469.1 215.0 L469.4 213.5 L469.7 209.7 L469.9 207.4 L470.2 208.3 L470.5 207.3 L470.7 204.5 L471.0 201.7 L471.2 199.7 L471.5 199.9 L471.8 198.5 L472.0 194.7 L472.3 193.9 L472.5 193.3 L472.8 190.5 L473.0 189.9 L473.3 188.9 L473.6 186.5 L473.8 183.8 L474.1 186.2 L474.3 183.9 L474.6 182.0 L474.9 179.4 L475.1 178.5 L475.4 176.2 L475.6 175.4 L475.9 174.5 L476.1 172.9 L476.4 170.0 L476.6 169.2 L476.8 168.3 L477.1 165.2 L477.3 164.9 L477.5 163.8 L477.8 162.0 L478.0 159.1 L478.2 157.8 L478.4 155.6 L478.6 153.5 L478.9 153.3 L479.1 152.3 L479.3 149.0 L479.5 150.8 L479.7 148.1 L479.9 148.2 L480.1 146.3 L480.3 143.0 L480.5 140.3 L480.7 138.6 L480.9 140.3 L481.1 139.2 L481.3 136.0 L481.5 133.8 L481.7 131.1 L481.8 129.6 L482.0 129.7 L482.2 130.0 L482.4 126.8 L482.6 126.1 L482.9 123.7 L483.0 121.2 L483.2 119.2 L483.4 117.6 L483.6 116.9 L483.8 116.6 L484.0 114.2 L484.1 111.8 L484.3 110.2 L484.5 109.0 L484.7 108.7 L484.9 106.8 L485.1 104.6 L485.2 103.6 L485.4 101.6 L485.6 100.2 L485.8 100.2 L486.0 99.3 L486.1 97.3 L486.3 95.1 L486.5 93.6 L486.7 92.2 L487.0 90.9 L487.2 88.8 L487.4 87.0 L487.6 85.4 L487.8 83.8 L487.9 81.8 L488.1 80.8 L488.2 78.9 L488.3 77.1 L488.4 75.4 L488.5 73.7 L488.6 71.9 L488.7 70.6 L488.8 69.2 L489.0 67.9 L489.2 65.7 L489.5 63.6 L489.7 61.4 L490.1 60.1 L490.5 59.5 L491.3 60.1 L492.2 61.7 L493.0 64.2 L493.4 65.3 L493.8 66.6 L494.1 68.1 L494.5 69.7 L494.8 71.4 L495.2 73.3 L495.5 74.8 L495.8 76.6 L496.2 78.1 L496.5 79.9 L496.8 81.6 L497.1 83.5 L497.4 84.8 L497.7 85.8 L498.0 87.6 L498.3 88.8 L498.6 89.2 L498.9 91.8 L499.2 92.9 L499.5 96.1 L499.7 97.1 L500.0 98.8 L500.3 100.1 L500.7 101.5 L501.0 103.0 L501.3 104.0 L501.6 106.4 L501.9 106.6 L502.2 108.3 L502.5 111.4 L502.7 112.5 L502.9 115.0 L503.1 117.0 L503.3 117.1 L503.5 117.3 L503.7 118.9 L503.8 120.7 L504.0 123.2 L504.2 126.0 L504.3 127.6 L504.5 129.1 L504.6 129.4 L504.7 130.2 L504.8 131.2 L504.9 134.1 L505.0 137.5 L505.1 137.5 L505.2 137.8 L505.3 137.1 L505.3 137.2 L505.4 139.8 L505.5 142.0 L505.6 143.9 L505.7 146.7 L505.8 147.2 L505.9 150.1 L506.0 151.7 L506.1 153.1 L506.1 154.4 L506.2 156.4 L506.3 157.5 L506.4 158.7 L506.5 160.1 L506.6 162.3 L506.7 164.5 L506.8 164.3 L506.9 166.2 L507.0 168.8 L507.1 171.6 L507.2 172.1 L507.3 174.4 L507.4 176.0 L507.5 177.1 L507.6 179.0 L507.7 177.4 L507.8 178.3 L508.0 180.2 L508.1 182.3 L508.2 184.3 L508.3 186.6 L508.5 188.3 L508.6 189.0 L508.7 191.1 L508.8 193.2 L509.0 194.4 L509.1 195.6 L509.2 195.9 L509.4 197.6 L509.5 200.1 L509.6 202.1 L509.8 203.6 L509.9 204.3 L510.0 207.0 L510.2 207.7 L510.3 206.7 L510.4 208.6 L510.6 211.3 L510.7 213.9 L510.8 215.2 L511.0 216.6 L511.1 218.8 L511.2 220.7 L511.4 220.2 L511.5 222.1 L511.6 223.3 L511.8 226.5 L511.9 227.1 L512.0 227.9 L512.1 230.8 L512.3 232.3 L512.4 233.6 L512.5 235.9 L512.7 236.2 L512.8 237.3 L512.9 240.7 L513.0 240.8 L513.2 242.6 L513.3 242.5 L513.4 245.3 L513.6 246.9 L513.7 249.7 L513.8 253.4 L513.9 249.2 L514.1 251.4 L514.2 254.2 L514.3 256.2 L514.5 255.7 L514.6 258.9 L514.7 259.7 L514.9 262.2 L515.0 263.5 L515.1 269.4 L515.2 268.0 L515.4 268.7 L515.5 266.5 L515.6 270.0 L515.8 273.5 L515.9 276.3 L516.0 275.6 L516.2 277.5 L516.3 278.2 L516.5 279.0 L516.6 279.0 L516.7 281.6 L516.9 285.7 L517.0 288.6 L517.2 289.0 L517.3 288.9 L517.4 292.5 L517.6 293.3 L517.7 293.5 L517.8 295.6 L518.0 297.9 L518.1 302.1 L518.3 301.4 L518.4 301.7 L518.5 303.0 L518.6 303.5 L518.8 308.6 L518.9 307.5 L519.0 309.9 L519.1 309.9 L519.3 311.2 L519.4 311.0 L519.5 315.8 L519.6 321.4 L519.8 322.5 L519.9 322.1 L520.0 324.1 L520.1 322.5 L520.2 323.9 L520.3 328.0 L520.4 328.2 L520.6 333.2 L520.7 333.4 L520.8 331.0 L520.9 333.2 L521.0 335.0 L521.1 338.0 L521.2 338.1 L521.3 339.5 L521.4 339.5 L521.5 345.3 L521.6 346.3 L521.7 346.0 L521.8 345.5 L521.9 350.7 L522.0 354.9 L522.1 353.9 L522.2 354.6 L522.2 352.2 L522.3 355.8 L522.4 358.1 L522.5 360.9 L522.5 360.4 L522.6 364.3 L522.7 365.9 L522.8 366.2 L522.8 367.7 L522.9 368.6 L523.0 368.3 L523.0 369.4 L523.1 373.2 L523.2 375.3 L523.3 377.0 L523.3 378.0 L523.4 381.0 L523.5 384.5 L523.6 383.1 L523.6 383.4 L523.7 384.9 L523.8 387.8 L523.9 390.3 L524.0 391.0 L524.1 392.3 L524.2 393.0 L524.3 393.6 L524.3 395.7 L524.5 397.8 L524.6 399.4 L524.7 401.6 L524.8 403.6 L524.9 403.8 L525.1 405.6 L525.3 407.7 L525.5 408.0 L525.7 411.3 L526.0 412.9 L526.2 411.2 L526.4 415.2 L526.7 416.9 L526.9 417.9 L527.2 417.1 L527.4 420.9 L527.6 421.9 L527.9 421.9 L528.1 422.3 L528.3 425.7 L528.5 427.4 L528.8 427.6 L529.0 431.7 L529.2 431.5 L529.4 433.7 L529.7 434.1 L529.9 436.0 L530.1 438.8 L530.3 439.7 L530.5 441.7 L530.8 443.1 L531.0 446.3 L531.2 447.4 L531.4 448.1 L531.7 447.8 L531.9 449.6 L532.1 452.7 L532.4 456.7 L532.6 457.6 L532.8 458.1 L533.1 459.9 L533.3 460.5 L533.5 461.8 L533.8 462.9 L534.0 464.5 L534.2 467.6 L534.4 471.7 L534.7 469.1 L535.0 471.9 L535.3 472.9 L535.6 473.2 L536.0 475.3 L536.3 475.2 L536.6 477.4 L536.9 480.9 L537.3 482.7 L537.6 481.8 L538.0 482.4 L538.4 482.7 L538.8 486.7 L539.1 486.6 L539.5 488.0 L539.9 490.7 L540.3 491.2 L540.7 493.3 L541.1 494.3 L541.5 494.2 L541.9 498.8 L542.3 499.7 L542.7 499.1 L543.1 504.8 L543.5 506.2 L543.8 506.3 L544.1 508.1 L544.4 510.3 L544.7 511.8 L545.0 511.7 L545.3 513.1 L545.6 514.9 L545.9 515.1 L546.2 517.1 L546.6 518.8 L547.0 521.7 L547.4 525.2 L547.9 526.6 L548.4 531.0 L549.0 529.2 L549.5 529.5 L550.1 530.0 L550.6 533.5 L551.2 533.6 L551.8 532.9 L552.4 535.9 L553.0 538.5 L553.7 539.3 L554.4 541.6 L555.2 543.9 L555.9 544.5 L556.7 543.4 L557.5 544.7 L558.2 545.7 L559.0 550.1 L559.7 552.8 L560.5 553.2 L561.3 553.6 L562.0 555.3 L562.8 559.1 L563.6 557.4 L564.4 561.3 L565.2 561.4 L566.0 561.3 L567.0 562.9 L568.0 564.4 L569.0 567.1 L570.0 568.3 L571.0 570.5 L572.0 570.9 L573.0 567.8 L573.9 572.8 L574.8 570.9 L575.6 570.4 L576.4 575.2 L577.3 577.9 L578.1 582.0 L579.0 582.2 L580.0 582.6 L581.0 583.3 L582.0 584.3 L583.0 585.2 L584.0 586.7 L585.0 586.6 L586.2 588.3 L587.5 589.2 L588.7 594.1 L590.0 593.0 L591.5 591.8 L593.1 592.1 L595.0 594.2 L596.4 595.4 L597.9 593.7 L599.6 595.0 L601.3 598.8 L603.1 597.0 L604.9 596.4 L606.6 596.5 L608.3 597.5 L609.9 599.7 L611.6 599.7 L613.3 596.7 L615.0 596.8 L616.6 597.9 L618.3 598.6 L620.0 600.1 L621.6 598.0 L623.3 595.5 L625.0 596.9 L626.7 598.9 L628.3 598.9 L630.0 600.7 L631.7 600.6 L633.4 600.0 L635.2 599.2 L636.9 600.2 L638.6 597.9 L640.2 601.6 L641.6 604.0 L643.2 602.6 L644.6 601.8 L645.9 603.0 L647.4 604.1 L648.7 606.5 L650.0 605.5 L651.3 605.6 L652.7 605.3 L654.2 608.2 L655.6 606.4 L657.1 610.1 L658.7 609.7 L660.4 609.2 L662.0 610.4 L663.5 609.9 L664.9 608.9 L666.7 607.3 L668.2 606.5 L670.0 606.4 L671.3 608.9 L672.7 608.9 L674.3 613.9 L675.8 613.2 L677.4 613.1 L679.0 614.3 L680.5 613.9 L682.0 614.0 L683.5 613.5 L684.9 612.5 L686.4 608.7 L687.9 608.7 L689.4 609.9 L691.0 608.1 L692.5 607.8 L694.0 607.6 L695.6 606.5 L697.2 608.6 L698.8 603.4 L700.4 605.2 L702.0 607.4 L703.5 607.3 L705.1 609.4 L706.6 607.9 L708.1 607.7 L709.5 607.7 L711.0 609.7 L712.5 608.0 L714.0 608.5 L715.5 609.6 L717.0 610.0 L718.5 609.5 L720.0 609.7 L721.5 608.6 L723.0 608.8 L724.5 612.2 L726.0 612.9 L727.5 612.1 L729.1 614.8 L730.6 613.5 L732.1 613.3 L733.6 614.7 L735.0 613.4 L736.7 615.5 L738.3 615.8 L739.9 612.9 L741.5 614.5 L743.3 616.1 L744.8 620.1 L746.4 618.2 L748.1 615.5 L749.9 616.1 L751.6 614.7 L753.2 615.4 L754.6 614.6 L755.9 615.7 L758.1 617.5 L760.0 618.0" stroke="#08F8F8"/>
<path d="M84.2 602.0 L85.5 600.5 L86.7 603.7 L87.9 598.9 L89.2 598.4 L90.4 599.6 L91.7 594.9 L92.9 594.2 L94.2 594.6 L95.5 592.8 L96.8 590.8 L98.1 591.4 L99.4 590.9 L100.7 590.8 L102.0 587.1 L103.3 588.3 L104.7 590.7 L106.0 589.6 L107.4 585.3 L108.7 586.0 L110.1 583.4 L111.4 582.6 L112.7 582.3 L114.1 583.2 L115.4 583.9 L116.8 582.4 L118.1 580.5 L119.5 579.6 L120.8 579.1 L122.1 579.1 L123.4 577.7 L124.7 576.4 L126.0 575.9 L127.3 575.2 L128.6 574.7 L129.8 574.2 L131.1 574.5 L132.3 573.1 L133.5 572.8 L134.8 571.1 L136.0 568.7 L137.3 568.3 L138.6 568.2 L139.9 567.7 L141.2 568.2 L142.5 568.0 L143.9 566.3 L145.3 564.1 L146.6 563.4 L148.0 564.6 L149.4 562.9 L150.7 559.3 L152.0 558.6 L153.3 558.4 L154.5 560.1 L155.7 558.0 L156.8 560.4 L158.0 556.8 L159.1 554.2 L160.3 553.0 L161.4 552.6 L162.5 549.7 L163.6 549.2 L164.7 548.7 L165.8 548.5 L166.9 545.9 L168.0 540.7 L169.2 543.4 L170.4 539.7 L171.5 543.9 L172.7 542.3 L173.9 537.5 L175.0 535.1 L176.2 535.9 L177.3 535.6 L178.4 533.4 L179.5 532.7 L180.5 534.4 L181.8 532.5 L182.9 531.2 L184.0 530.3 L185.2 529.6 L186.3 527.8 L187.5 524.1 L188.9 522.7 L189.9 521.5 L191.0 521.9 L192.1 521.6 L193.3 519.3 L194.5 517.8 L195.8 516.5 L197.0 517.2 L198.3 514.9 L199.6 513.5 L200.8 514.1 L202.1 513.4 L203.3 512.2 L204.5 509.2 L205.6 507.4 L206.9 509.0 L208.2 508.4 L209.5 505.8 L210.8 507.9 L212.0 503.0 L213.3 503.7 L214.5 501.9 L215.7 500.3 L217.0 500.6 L218.2 496.8 L219.4 493.8 L220.6 495.4 L221.8 497.7 L223.0 494.8 L224.2 492.4 L225.4 494.1 L226.6 492.6 L227.7 489.2 L228.8 485.7 L229.8 483.9 L230.8 484.4 L231.7 483.1 L232.5 479.3 L233.3 479.5 L234.0 480.7 L234.7 478.4 L235.4 476.6 L236.0 475.4 L236.7 475.2 L237.3 476.4 L237.9 476.1 L238.6 473.5 L239.2 471.1 L239.8 470.6 L240.4 470.0 L241.0 468.4 L241.6 466.1 L242.2 461.6 L242.8 458.2 L243.3 460.0 L243.9 458.0 L244.4 456.1 L244.9 453.1 L245.5 451.4 L246.0 454.2 L246.5 451.3 L247.0 447.6 L247.5 448.3 L247.9 447.1 L248.4 446.6 L248.9 446.9 L249.3 441.7 L249.8 438.5 L250.2 438.5 L250.7 436.9 L251.1 436.8 L251.5 435.1 L252.0 433.0 L252.4 431.2 L252.9 430.1 L253.3 428.5 L253.7 427.1 L254.2 424.2 L254.6 423.5 L255.0 422.1 L255.4 422.5 L255.9 420.9 L256.3 418.9 L256.7 416.8 L257.1 414.4 L257.6 409.8 L258.0 413.0 L258.5 409.6 L258.9 410.3 L259.3 406.6 L259.8 405.6 L260.2 403.8 L260.6 401.3 L261.1 401.4 L261.5 400.8 L262.0 397.7 L262.5 395.0 L263.0 395.0 L263.5 395.3 L264.0 395.0 L264.5 392.9 L265.0 390.0 L265.5 387.9 L266.0 388.2 L266.6 385.8 L267.1 384.8 L267.7 384.4 L268.2 382.5 L268.8 379.2 L269.3 376.6 L269.9 374.4 L270.4 374.3 L270.9 374.2 L271.4 373.8 L271.9 372.1 L272.4 369.7 L272.9 370.8 L273.4 365.8 L273.9 362.5 L274.3 362.3 L274.8 362.9 L275.3 360.0 L275.7 358.0 L276.2 356.4 L276.6 357.9 L277.0 353.5 L277.4 351.4 L277.8 351.0 L278.2 349.1 L278.6 349.2 L279.0 348.2 L279.4 345.1 L279.7 343.4 L280.1 342.0 L280.4 341.8 L280.7 340.4 L281.1 337.2 L281.4 334.4 L281.7 334.3 L282.1 334.3 L282.4 331.4 L282.7 328.7 L283.1 326.4 L283.4 326.3 L283.7 322.4 L284.1 321.7 L284.4 321.5 L284.7 320.2 L285.1 317.5 L285.4 316.2 L285.8 314.1 L286.1 310.8 L286.5 311.5 L286.9 309.9 L287.4 310.1 L287.8 308.3 L288.3 308.6 L288.8 307.0 L289.3 306.0 L289.7 305.0 L290.2 302.5 L290.6 299.8 L291.0 299.6 L291.3 295.4 L291.6 295.2 L291.9 294.9 L292.1 292.1 L292.4 291.0 L292.6 287.7 L292.8 287.0 L293.1 287.0 L293.3 286.1 L293.5 283.4 L293.7 281.4 L294.0 280.4 L294.2 278.3 L294.5 273.7 L294.8 273.6 L295.0 275.0 L295.3 269.9 L295.6 270.7 L295.9 268.3 L296.2 268.5 L296.5 264.5 L296.8 263.4 L297.1 259.3 L297.4 261.0 L297.7 260.2 L297.9 256.9 L298.2 256.6 L298.5 253.6 L298.8 248.8 L299.0 250.6 L299.2 249.8 L299.4 247.3 L299.6 245.4 L299.8 243.6 L300.0 243.8 L300.2 244.0 L300.4 241.7 L300.5 241.0 L300.7 238.6 L300.9 237.0 L301.1 235.5 L301.3 236.7 L301.5 235.5 L301.7 232.0 L301.9 229.1 L302.0 228.8 L302.2 228.1 L302.4 221.9 L302.6 220.3 L302.8 224.5 L303.0 220.6 L303.2 218.5 L303.4 217.8 L303.5 216.7 L303.7 214.2 L303.9 213.2 L304.1 212.1 L304.3 207.8 L304.5 205.5 L304.7 204.6 L304.9 203.3 L305.1 201.8 L305.3 200.5 L305.5 194.7 L305.7 195.0 L305.8 197.2 L306.0 195.5 L306.2 191.7 L306.4 190.4 L306.6 191.3 L306.8 187.8 L307.0 186.8 L307.2 187.2 L307.4 183.7 L307.6 182.6 L307.8 180.3 L308.0 177.9 L308.2 175.6 L308.4 175.9 L308.5 174.3 L308.7 171.9 L308.9 170.3 L309.1 168.4 L309.3 167.8 L309.5 165.7 L309.6 164.3 L309.8 165.4 L310.0 163.4 L310.2 161.1 L310.4 160.0 L310.6 161.3 L310.8 157.1 L311.1 153.3 L311.3 153.3 L311.5 151.2 L311.7 149.0 L311.9 147.3 L312.1 145.8 L312.2 144.9 L312.4 142.3 L312.6 141.1 L312.8 141.4 L313.0 140.2 L313.2 141.7 L313.3 136.3 L313.5 133.7 L313.7 132.3 L313.9 131.8 L314.1 128.6 L314.3 127.5 L314.5 128.6 L314.7 124.9 L314.9 126.2 L315.1 123.0 L315.3 120.2 L315.5 122.1 L315.7 118.2 L316.0 115.6 L316.2 115.6 L316.4 115.7 L316.7 113.6 L316.9 112.4 L317.2 111.6 L317.5 108.5 L317.8 106.8 L318.1 104.4 L318.4 102.1 L318.8 102.1 L319.1 100.9 L319.5 98.3 L320.0 98.2 L320.5 95.9 L321.2 94.0 L322.0 93.3 L322.9 90.4 L323.8 89.2 L324.7 87.2 L325.6 86.8 L326.4 87.6 L327.3 88.6 L328.1 89.5 L328.9 91.7 L329.7 92.8 L330.5 94.0 L331.1 96.2 L331.6 97.4 L332.2 98.5 L332.7 99.3 L333.2 100.5 L333.8 103.0 L334.2 105.7 L334.7 107.0 L335.1 109.7 L335.5 110.4 L335.8 111.0 L336.1 113.3 L336.4 114.9 L336.7 115.4 L336.9 118.9 L337.1 120.2 L337.3 119.8 L337.5 121.4 L337.8 124.3 L338.0 127.1 L338.2 128.1 L338.5 127.4 L338.7 127.7 L339.0 130.0 L339.2 131.1 L339.5 132.3 L339.7 136.6 L340.0 138.1 L340.2 138.5 L340.5 139.6 L340.7 140.5 L341.0 142.6 L341.2 142.3 L341.4 144.9 L341.6 148.9 L341.8 150.8 L342.0 151.7 L342.2 151.2 L342.4 153.0 L342.6 155.6 L342.8 158.4 L343.0 160.3 L343.2 159.9 L343.4 163.4 L343.6 162.9 L343.8 163.5 L344.0 165.4 L344.2 167.5 L344.4 167.9 L344.6 169.8 L344.9 172.3 L345.1 173.6 L345.3 175.3 L345.5 176.9 L345.8 177.9 L346.2 180.4 L346.6 181.4 L346.9 181.1 L347.3 182.4 L347.7 185.4 L348.0 187.6 L348.4 188.4 L348.7 190.3 L349.0 191.7 L349.2 193.0 L349.4 196.0 L349.6 196.1 L349.8 198.0 L350.1 200.1 L350.3 199.0 L350.5 201.7 L350.7 204.1 L350.9 205.8 L351.1 207.9 L351.3 209.4 L351.5 209.9 L351.7 209.8 L351.9 212.1 L352.0 215.3 L352.2 214.3 L352.4 216.8 L352.6 215.2 L352.7 218.4 L352.9 220.0 L353.1 224.1 L353.3 223.2 L353.4 227.3 L353.6 230.1 L353.8 231.9 L354.0 233.9 L354.2 235.0 L354.4 236.6 L354.6 236.9 L354.8 237.8 L355.0 236.8 L355.3 240.9 L355.5 244.3 L355.8 243.0 L356.1 243.7 L356.4 247.8 L356.7 251.2 L357.0 251.5 L357.4 250.4 L357.7 253.4 L358.0 254.2 L358.4 255.2 L358.7 255.3 L359.1 259.9 L359.4 260.3 L359.8 262.1 L360.1 262.8 L360.5 263.9 L361.0 266.7 L361.4 267.2 L361.9 269.7 L362.3 271.6 L362.8 272.1 L363.2 275.0 L363.6 275.6 L364.1 277.3 L364.5 280.4 L364.9 282.5 L365.2 284.6 L365.6 286.7 L365.9 285.2 L366.3 285.6 L366.6 291.0 L367.0 291.9 L367.3 291.1 L367.7 293.3 L368.1 292.8 L368.5 293.9 L368.9 298.4 L369.4 299.3 L369.8 301.4 L370.3 304.5 L370.7 304.2 L371.2 302.7 L371.7 302.8 L372.2 305.1 L372.7 308.1 L373.3 310.0 L373.8 311.8 L374.4 312.3 L375.0 313.2 L375.6 313.8 L376.2 318.0 L376.9 318.8 L377.5 320.9 L378.2 320.9 L378.9 323.0 L379.5 325.2 L380.2 325.4 L381.1 326.1 L381.9 332.2 L382.7 330.3 L383.6 332.0 L384.6 332.0 L385.7 332.5 L387.2 335.8 L388.9 334.7 L390.7 332.0 L392.5 333.1 L394.1 336.0 L395.4 336.3 L396.6 337.3 L397.7 340.1 L398.8 341.0 L400.0 342.9 L401.1 343.5 L402.5 341.4 L404.0 340.1 L405.4 338.8 L406.7 335.5 L407.5 336.6 L408.1 332.9 L408.7 331.5 L409.2 328.8 L409.8 329.1 L410.3 328.9 L410.9 328.7 L411.7 328.8 L412.4 329.4 L413.2 333.2 L414.1 335.5 L415.1 335.9 L416.3 337.2 L417.7 335.4 L419.2 330.4 L420.7 330.6 L422.1 330.6 L423.3 329.1 L424.5 329.4 L425.7 327.4 L426.8 325.8 L428.0 324.6 L429.1 325.0 L430.1 324.6 L431.2 326.3 L432.2 322.5 L433.2 319.5 L434.1 318.4 L435.1 315.6 L436.0 312.8 L436.9 314.9 L437.7 315.0 L438.5 310.2 L439.3 308.7 L440.1 307.8 L440.8 308.6 L441.6 306.5 L442.5 302.8 L443.4 301.9 L444.2 301.1 L445.1 301.2 L445.9 300.7 L446.4 299.4 L447.0 296.0 L447.5 293.7 L448.0 294.7 L448.5 293.3 L449.0 290.5 L449.5 289.7 L450.0 288.8 L450.4 287.0 L450.9 285.1 L451.3 283.1 L451.7 279.9 L452.0 280.4 L452.3 279.0 L452.6 278.3 L452.9 274.3 L453.1 272.4 L453.4 272.2 L453.6 269.0 L453.8 268.2 L454.0 267.2 L454.2 265.7 L454.4 264.0 L454.7 259.6 L454.9 261.3 L455.2 260.7 L455.4 260.9 L455.6 260.1 L455.9 257.1 L456.1 255.6 L456.3 249.4 L456.6 251.9 L456.8 252.2 L457.0 250.3 L457.3 247.4 L457.5 244.7 L457.8 243.2 L458.0 242.4 L458.3 241.5 L458.5 239.5 L458.8 236.4 L459.0 236.4 L459.3 234.1 L459.5 228.8 L459.8 231.6 L460.0 231.5 L460.3 228.7 L460.5 228.1 L460.8 225.5 L461.0 221.9 L461.2 221.3 L461.5 217.9 L461.7 217.0 L462.0 215.8 L462.3 216.1 L462.5 215.2 L462.8 211.9 L463.0 210.0 L463.3 206.1 L463.5 206.8 L463.8 207.7 L464.0 206.9 L464.3 205.3 L464.5 201.6 L464.8 198.0 L465.0 195.6 L465.3 194.6 L465.5 195.6 L465.8 194.0 L466.0 191.5 L466.3 191.0 L466.5 190.6 L466.8 188.7 L467.1 186.0 L467.3 184.9 L467.6 183.8 L467.8 182.7 L468.1 181.6 L468.3 179.1 L468.6 175.2 L468.9 175.1 L469.1 174.9 L469.4 172.4 L469.6 171.6 L469.9 169.1 L470.2 170.7 L470.4 167.9 L470.7 166.0 L470.9 165.4 L471.2 163.7 L471.4 161.6 L471.7 161.1 L471.9 159.0 L472.1 156.6 L472.4 154.0 L472.6 152.0 L472.8 151.8 L473.1 149.8 L473.3 148.9 L473.5 148.2 L473.7 144.4 L473.9 142.5 L474.2 141.8 L474.4 140.5 L474.6 137.9 L474.8 137.0 L475.0 133.4 L475.2 133.4 L475.4 133.3 L475.6 130.5 L475.8 130.9 L476.0 129.2 L476.2 125.1 L476.4 122.1 L476.6 125.1 L476.8 124.1 L476.9 119.0 L477.1 119.5 L477.3 118.5 L477.5 114.4 L477.8 114.4 L478.0 114.6 L478.2 112.1 L478.4 110.7 L478.6 109.1 L478.8 105.8 L479.0 104.9 L479.2 104.5 L479.4 102.2 L479.6 101.6 L479.8 100.4 L480.0 98.3 L480.2 96.4 L480.4 95.1 L480.7 94.7 L480.9 92.4 L481.1 89.7 L481.3 88.6 L481.6 87.0 L481.8 85.7 L482.1 84.4 L482.3 83.1 L482.6 81.6 L482.8 80.2 L483.1 79.0 L483.4 76.9 L483.8 75.3 L484.1 73.8 L484.5 71.8 L484.9 70.4 L485.2 69.0 L485.6 67.6 L486.1 66.5 L486.5 65.1 L487.2 63.6 L487.9 61.5 L488.6 60.1 L489.3 58.6 L490.0 57.6 L490.8 56.8 L491.6 56.2 L492.1 56.6 L492.6 58.0 L493.1 59.9 L493.6 61.7 L494.0 63.3 L494.5 65.3 L494.9 67.2 L495.2 68.6 L495.6 70.0 L495.9 71.3 L496.2 73.2 L496.5 75.1 L496.7 77.0 L497.0 77.9 L497.3 79.1 L497.6 80.1 L497.9 81.2 L498.2 83.2 L498.5 86.0 L498.8 87.3 L499.1 87.3 L499.5 89.4 L499.8 91.3 L500.1 92.9 L500.4 95.9 L500.7 97.5 L501.0 99.0 L501.3 98.8 L501.5 100.4 L501.8 101.2 L502.0 104.6 L502.3 104.4 L502.5 108.0 L502.7 108.7 L503.0 109.7 L503.2 110.4 L503.4 112.7 L503.6 111.8 L503.8 113.4 L504.0 115.7 L504.2 120.7 L504.4 120.6 L504.6 120.6 L504.8 123.9 L505.0 128.2 L505.2 125.9 L505.4 126.1 L505.5 127.6 L505.6 130.5 L505.7 134.1 L505.8 134.0 L505.9 134.0 L506.0 134.3 L506.1 135.0 L506.2 137.9 L506.3 141.4 L506.4 142.2 L506.5 142.5 L506.6 143.4 L506.7 146.9 L506.8 149.6 L506.8 151.8 L506.9 151.6 L507.0 152.9 L507.1 154.7 L507.2 155.5 L507.3 156.0 L507.4 161.2 L507.5 164.2 L507.6 163.7 L507.7 165.6 L507.8 165.1 L507.9 166.8 L508.0 168.6 L508.1 171.7 L508.2 173.8 L508.3 170.6 L508.4 175.2 L508.5 177.8 L508.6 180.9 L508.7 179.0 L508.8 181.3 L509.0 184.8 L509.1 186.4 L509.2 188.4 L509.3 186.3 L509.5 187.5 L509.6 190.6 L509.7 189.7 L509.8 193.7 L510.0 196.4 L510.1 196.8 L510.2 195.4 L510.4 197.7 L510.5 200.0 L510.6 202.8 L510.8 204.1 L510.9 204.1 L511.0 203.3 L511.2 204.3 L511.3 207.1 L511.4 208.9 L511.6 210.9 L511.7 212.0 L511.8 214.8 L512.0 216.0 L512.1 218.7 L512.2 220.2 L512.4 222.3 L512.5 221.3 L512.6 222.5 L512.8 223.9 L512.9 227.6 L513.0 230.6 L513.1 232.8 L513.3 232.6 L513.4 233.6 L513.5 236.3 L513.7 236.4 L513.8 236.8 L513.9 240.5 L514.0 240.1 L514.2 240.3 L514.3 243.3 L514.4 244.5 L514.6 246.7 L514.7 247.6 L514.8 249.4 L514.9 250.9 L515.1 253.5 L515.2 255.8 L515.3 256.9 L515.5 258.6 L515.6 259.7 L515.7 259.6 L515.9 263.4 L516.0 265.9 L516.1 267.1 L516.2 267.7 L516.4 268.5 L516.5 270.7 L516.6 272.0 L516.8 274.5 L516.9 275.8 L517.0 276.1 L517.2 276.7 L517.3 276.9 L517.4 280.2 L517.6 283.7 L517.7 285.2 L517.9 287.7 L518.0 288.7 L518.1 289.3 L518.3 291.3 L518.4 291.4 L518.6 295.0 L518.7 295.8 L518.8 297.1 L519.0 297.7 L519.1 298.3 L519.2 299.7 L519.4 302.6 L519.5 304.0 L519.6 304.0 L519.8 309.7 L519.9 313.6 L520.0 311.1 L520.1 311.9 L520.3 313.8 L520.4 314.7 L520.5 316.4 L520.6 317.5 L520.8 319.2 L520.9 322.6 L521.0 324.1 L521.1 325.6 L521.3 327.3 L521.4 328.8 L521.5 333.1 L521.6 334.3 L521.7 334.8 L521.9 334.1 L522.0 333.0 L522.1 335.4 L522.2 338.7 L522.3 340.0 L522.5 340.3 L522.6 341.1 L522.7 341.9 L522.8 344.2 L522.9 347.5 L523.1 349.8 L523.2 351.2 L523.3 351.7 L523.4 353.1 L523.6 354.6 L523.7 356.7 L523.9 358.3 L524.0 360.1 L524.2 360.6 L524.3 362.1 L524.5 365.7 L524.7 367.2 L524.8 364.1 L525.0 367.5 L525.1 370.2 L525.3 372.0 L525.4 369.0 L525.6 370.5 L525.7 374.6 L525.9 376.8 L526.0 378.6 L526.1 382.3 L526.2 383.8 L526.3 384.7 L526.4 385.5 L526.5 384.4 L526.6 386.1 L526.7 386.6 L526.8 392.5 L526.8 394.2 L526.9 393.7 L527.0 394.9 L527.1 398.2 L527.2 398.0 L527.3 400.5 L527.3 403.3 L527.4 402.6 L527.5 405.0 L527.6 409.3 L527.7 410.9 L527.8 412.4 L527.9 411.7 L528.0 412.5 L528.1 414.3 L528.3 415.8 L528.4 418.3 L528.5 421.3 L528.6 423.1 L528.8 423.8 L528.9 426.0 L529.1 423.1 L529.3 426.0 L529.6 426.9 L529.9 426.1 L530.2 429.1 L530.5 432.5 L530.8 434.9 L531.1 436.4 L531.4 437.1 L531.7 437.3 L532.1 438.3 L532.4 442.2 L532.7 445.4 L533.0 444.9 L533.3 444.9 L533.6 447.6 L533.9 450.1 L534.2 451.7 L534.5 451.9 L534.8 454.4 L535.1 455.4 L535.4 456.2 L535.7 457.6 L536.0 459.4 L536.3 461.3 L536.6 461.4 L536.9 463.1 L537.2 466.7 L537.5 468.2 L537.9 466.7 L538.3 470.0 L538.6 472.2 L539.0 473.0 L539.4 474.9 L539.8 475.6 L540.2 475.6 L540.6 476.9 L541.0 479.8 L541.4 481.7 L541.8 483.0 L542.3 487.0 L542.7 487.8 L543.2 489.5 L543.6 492.7 L544.1 491.5 L544.6 491.5 L545.0 493.5 L545.5 496.8 L546.0 500.0 L546.4 499.7 L546.8 499.5 L547.2 501.6 L547.6 505.3 L548.0 505.8 L548.4 507.7 L548.8 509.1 L549.3 509.5 L549.7 510.3 L550.1 511.1 L550.5 513.3 L551.0 517.0 L551.4 514.7 L551.8 517.2 L552.3 519.2 L552.7 519.0 L553.3 521.1 L554.0 522.8 L554.6 526.7 L555.2 526.8 L555.9 528.9 L556.6 529.8 L557.3 528.4 L558.0 529.6 L558.7 533.7 L559.4 532.4 L560.2 536.0 L561.0 538.9 L561.8 541.3 L562.6 541.0 L563.4 544.2 L564.2 543.5 L565.0 546.2 L565.8 545.0 L566.5 547.8 L567.3 548.6 L568.1 551.3 L568.9 555.0 L569.7 553.3 L570.5 554.4 L571.3 555.8 L572.1 556.1 L573.0 555.4 L574.0 558.8 L575.0 557.6 L576.0 560.5 L577.1 561.8 L578.1 565.0 L579.2 568.0 L580.3 567.2 L581.4 567.2 L582.4 570.7 L583.7 573.4 L585.0 574.3 L586.3 576.0 L587.6 573.5 L588.8 575.6 L590.0 574.5 L591.3 578.1 L592.5 579.3 L593.7 578.5 L595.0 578.4 L596.3 580.8 L597.7 583.0 L599.1 584.0 L600.5 585.4 L602.0 584.5 L603.7 583.0 L605.5 586.1 L607.2 585.8 L609.0 583.1 L610.8 582.1 L612.5 587.8 L614.2 584.5 L616.0 586.5 L617.8 585.3 L619.5 585.3 L621.3 588.2 L623.0 588.7 L624.4 586.9 L625.8 586.7 L627.2 589.9 L628.6 589.5 L630.0 589.3 L632.0 588.3 L633.9 588.8 L635.8 587.1 L637.8 586.2 L639.7 587.7 L641.6 588.6 L643.1 588.2 L644.6 591.6 L646.0 594.6 L647.4 595.1 L648.6 594.8 L649.7 597.6 L650.8 597.4 L651.9 597.4 L653.2 599.9 L654.8 601.6 L656.6 600.1 L658.4 600.9 L660.2 600.2 L661.6 600.5 L663.0 602.9 L664.3 604.4 L665.7 605.0 L667.2 605.1 L668.7 604.9 L670.2 605.2 L671.8 601.7 L673.4 603.8 L674.9 601.1 L676.3 602.2 L677.7 603.7 L678.9 604.8 L680.1 606.2 L681.3 606.3 L682.6 610.1 L683.7 609.3 L684.9 607.7 L686.1 606.3 L687.3 603.1 L688.5 599.2 L689.7 599.1 L691.0 600.2 L692.6 597.9 L694.3 601.4 L696.0 598.8 L697.7 597.6 L699.3 596.0 L700.8 597.5 L702.3 598.2 L703.7 597.5 L705.2 594.9 L706.7 596.8 L708.1 596.2 L709.5 596.3 L710.9 597.6 L712.3 600.2 L713.7 602.3 L715.1 601.9 L716.6 600.1 L718.1 600.5 L719.5 603.0 L721.0 603.1 L722.4 602.2 L724.0 607.0 L725.5 608.3 L727.1 605.5 L728.7 604.6 L730.3 604.4 L732.1 604.0 L733.8 606.8 L735.5 607.6 L737.1 611.3 L738.8 612.0 L740.5 610.3 L742.1 611.6 L743.3 614.0 L744.0 615.8 L744.3 617.0 L744.6 616.0 L745.4 616.8 L746.7 618.3 L748.4 620.0 L750.2 617.8 L752.1 618.6 L753.8 617.2 L755.4 617.6 L757.0 618.9 L758.5 616.0 L760.0 614.5" stroke="#08F808"/>
<path d="M84.2 569.4 L85.9 570.5 L87.6 568.5 L89.2 565.4 L90.9 567.3 L92.6 569.4 L94.3 565.6 L96.0 569.3 L97.7 568.1 L99.4 569.9 L100.9 566.4 L102.3 566.0 L103.6 564.3 L104.8 562.4 L106.0 560.8 L107.2 559.9 L108.4 559.5 L109.6 557.7 L110.8 557.0 L112.1 552.2 L113.5 553.1 L115.1 552.8 L116.7 554.5 L118.5 555.6 L120.2 554.2 L121.9 554.5 L123.2 552.1 L124.4 550.5 L125.5 552.6 L126.7 550.7 L127.9 548.2 L129.1 544.3 L130.3 544.1 L131.9 545.6 L133.6 547.8 L135.3 550.0 L136.9 547.8 L138.6 548.9 L140.0 549.3 L141.4 546.9 L142.8 547.0 L144.2 546.2 L145.6 544.1 L147.0 542.9 L148.4 544.2 L149.8 545.1 L151.3 542.8 L152.7 542.6 L154.1 541.2 L155.4 544.8 L156.5 542.3 L157.6 537.9 L158.6 538.1 L159.6 536.8 L160.6 533.5 L161.7 532.1 L162.7 532.5 L163.8 530.9 L165.2 527.9 L166.7 527.4 L168.2 523.9 L169.6 524.9 L170.9 526.5 L172.1 525.1 L172.9 525.5 L173.5 523.8 L173.9 519.1 L174.3 516.5 L174.8 513.6 L175.4 513.2 L176.3 513.1 L177.7 513.0 L179.3 514.0 L181.1 510.3 L183.0 513.9 L184.7 513.2 L186.4 513.9 L188.1 511.9 L189.8 512.6 L191.4 511.0 L193.1 511.7 L194.6 509.7 L196.0 509.4 L197.5 510.7 L198.9 512.0 L200.3 509.4 L201.5 508.4 L202.3 507.9 L203.1 504.2 L203.7 501.1 L204.3 500.7 L204.8 498.0 L205.4 493.8 L205.9 494.1 L206.4 493.7 L207.0 492.3 L207.7 491.4 L208.7 491.1 L209.7 492.4 L210.8 497.7 L211.9 498.2 L213.0 498.9 L214.0 501.2 L214.8 500.4 L215.6 501.9 L216.4 499.7 L217.2 496.6 L217.9 495.4 L218.7 493.7 L219.5 491.8 L220.3 490.1 L221.2 488.2 L222.1 486.7 L223.0 484.9 L223.9 483.7 L224.8 482.9 L225.7 481.9 L226.6 480.9 L227.6 480.1 L228.5 479.7 L229.4 478.0 L230.3 476.8 L231.2 475.8 L232.0 473.6 L232.7 472.4 L233.3 471.4 L233.9 467.1 L234.4 468.9 L235.0 464.6 L235.6 460.4 L236.3 462.4 L236.8 461.5 L237.3 461.3 L237.8 458.3 L238.4 458.1 L239.0 457.2 L239.5 453.8 L240.1 452.6 L240.7 453.4 L241.3 453.6 L241.9 452.2 L242.5 449.8 L243.1 447.7 L243.6 446.9 L244.2 445.2 L244.7 442.2 L245.3 441.3 L245.9 438.7 L246.5 436.2 L247.0 436.2 L247.6 434.9 L248.1 434.5 L248.7 431.9 L249.2 429.5 L249.8 428.0 L250.3 426.4 L250.9 426.5 L251.5 425.7 L252.2 422.7 L252.8 420.6 L253.5 418.8 L254.2 417.6 L254.8 414.8 L255.5 415.9 L256.1 413.9 L256.7 414.0 L257.2 412.7 L257.6 409.6 L258.0 405.8 L258.4 405.5 L258.7 405.9 L259.0 401.2 L259.3 399.3 L259.6 401.0 L259.9 399.1 L260.2 399.3 L260.6 396.3 L260.9 394.7 L261.4 392.0 L262.3 388.3 L263.4 384.8 L264.4 387.3 L265.6 387.3 L266.3 384.5 L267.0 384.8 L267.8 380.9 L268.6 382.9 L269.4 381.3 L270.2 381.0 L271.0 375.0 L271.8 377.7 L272.6 375.6 L273.3 372.5 L274.0 370.5 L274.7 370.2 L275.4 367.9 L276.0 364.8 L276.7 363.0 L277.3 362.6 L277.9 363.8 L278.5 363.6 L279.1 362.8 L279.7 359.2 L280.3 353.9 L280.8 353.3 L281.3 351.5 L281.8 351.9 L282.3 353.1 L282.8 349.7 L283.3 347.5 L283.7 347.6 L284.2 346.9 L284.7 345.4 L285.1 340.7 L285.6 339.0 L286.0 338.7 L286.5 338.7 L286.9 336.3 L287.3 334.4 L287.7 335.8 L288.1 331.4 L288.5 330.1 L288.9 328.2 L289.3 326.3 L289.7 325.7 L290.1 324.6 L290.5 323.2 L290.8 320.7 L291.2 318.3 L291.6 318.8 L291.9 317.4 L292.2 316.6 L292.5 315.7 L292.8 315.8 L293.1 312.7 L293.4 307.1 L293.7 306.6 L293.9 308.1 L294.2 308.4 L294.4 307.0 L294.6 304.0 L294.9 302.9 L295.2 297.5 L295.5 295.6 L295.8 294.0 L296.1 295.2 L296.5 295.2 L296.8 292.1 L297.2 290.6 L297.6 287.8 L298.0 286.3 L298.4 286.0 L298.8 286.7 L299.2 283.7 L299.5 282.3 L299.9 281.4 L300.3 278.6 L300.7 276.6 L301.0 277.0 L301.3 273.5 L301.6 271.9 L301.9 270.8 L302.2 269.7 L302.5 267.7 L302.8 267.6 L303.1 266.2 L303.4 261.2 L303.7 260.0 L304.0 261.7 L304.3 259.7 L304.5 258.6 L304.8 256.5 L305.1 253.9 L305.4 251.7 L305.7 249.1 L306.0 249.4 L306.3 247.5 L306.6 244.9 L306.9 244.2 L307.2 243.8 L307.5 242.8 L307.8 241.8 L308.1 241.8 L308.4 239.6 L308.7 236.3 L309.0 232.7 L309.3 232.9 L309.5 232.0 L309.8 230.3 L310.1 228.7 L310.3 226.1 L310.6 225.0 L310.9 224.2 L311.1 222.4 L311.4 221.0 L311.6 221.0 L311.9 219.3 L312.1 218.0 L312.3 216.0 L312.6 213.4 L312.8 212.0 L313.0 212.8 L313.2 209.5 L313.4 207.4 L313.6 203.4 L313.7 200.9 L313.9 200.4 L314.0 198.6 L314.2 199.4 L314.3 196.4 L314.5 195.0 L314.6 196.2 L314.8 192.0 L315.0 191.2 L315.2 193.9 L315.4 189.5 L315.7 186.3 L316.0 185.4 L316.3 184.4 L316.6 176.9 L317.0 178.7 L317.4 178.5 L318.0 178.3 L319.5 178.0 L321.0 178.2 L321.7 179.2 L322.4 180.3 L323.0 176.5 L323.6 173.3 L324.2 171.4 L324.8 171.0 L325.4 164.9 L326.1 168.6 L326.7 167.1 L327.3 165.4 L328.0 161.6 L328.8 160.0 L329.7 160.0 L330.5 159.2 L331.3 160.2 L331.7 161.7 L332.1 161.3 L332.5 158.9 L332.8 161.6 L333.1 165.0 L333.4 168.0 L333.8 167.4 L334.1 170.6 L334.4 172.7 L334.7 173.2 L335.0 174.4 L335.4 177.5 L335.7 180.6 L336.0 180.7 L336.3 180.2 L336.6 181.9 L337.0 184.0 L337.3 185.6 L337.7 187.7 L338.1 186.4 L338.5 188.2 L338.9 191.2 L339.4 194.0 L339.8 194.2 L340.3 197.5 L340.8 197.6 L341.2 196.3 L341.7 197.7 L342.1 202.6 L342.5 205.1 L342.9 205.6 L343.2 205.8 L343.6 208.0 L344.0 208.1 L344.4 211.6 L344.7 213.4 L345.1 215.0 L345.5 218.2 L345.9 216.2 L346.2 217.1 L346.6 221.3 L347.0 223.9 L347.3 221.9 L347.7 223.1 L348.0 226.3 L348.4 228.8 L348.8 229.0 L349.1 233.4 L349.5 235.9 L349.9 234.1 L350.2 235.7 L350.6 239.6 L351.0 237.1 L351.5 241.7 L351.9 242.1 L352.4 241.4 L352.9 245.8 L353.4 247.3 L353.9 245.2 L354.4 245.1 L354.9 250.2 L355.4 252.7 L355.8 252.8 L356.3 254.1 L356.8 254.2 L357.2 256.1 L357.7 258.4 L358.2 261.2 L358.7 262.3 L359.1 262.3 L359.6 264.8 L360.1 266.2 L360.5 267.2 L361.0 268.1 L361.6 270.0 L362.3 274.5 L362.9 276.8 L363.5 276.3 L364.2 276.5 L364.8 277.4 L365.7 281.4 L366.6 281.8 L367.6 283.7 L368.1 285.6 L368.7 285.2 L369.2 289.4 L369.7 290.7 L370.3 290.3 L370.9 292.4 L371.6 292.1 L372.3 295.8 L373.2 296.9 L374.8 296.7 L376.6 296.3 L378.4 294.6 L380.2 294.2 L381.6 296.8 L383.0 297.9 L384.4 300.6 L385.7 300.0 L387.1 301.5 L388.5 300.9 L389.9 300.9 L391.4 301.3 L392.8 300.6 L394.1 295.6 L395.0 295.3 L395.9 293.1 L396.8 292.8 L397.6 290.2 L398.4 291.5 L399.3 289.9 L400.2 287.4 L401.1 285.0 L403.0 283.4 L405.0 285.2 L406.7 287.3 L407.6 287.5 L408.3 286.6 L409.0 283.4 L409.6 281.0 L410.2 281.2 L410.9 279.5 L411.6 276.4 L412.3 274.6 L413.0 275.0 L413.8 270.0 L414.6 270.1 L415.5 269.8 L416.5 268.7 L418.1 268.1 L420.0 267.4 L421.8 271.3 L423.5 268.5 L424.8 266.6 L425.9 265.8 L427.1 264.4 L428.1 265.0 L429.1 264.5 L430.1 264.5 L431.0 262.9 L431.8 264.3 L432.6 260.6 L433.3 258.8 L433.8 256.5 L434.2 254.1 L434.5 253.2 L434.8 253.2 L435.1 252.1 L435.5 246.9 L435.8 244.8 L436.3 244.4 L436.8 243.8 L438.3 242.1 L440.0 239.4 L441.4 240.9 L443.0 240.9 L444.6 239.0 L446.0 238.3 L446.7 239.1 L447.4 238.1 L448.0 234.8 L448.6 232.8 L449.2 231.6 L449.7 230.9 L450.1 228.6 L450.6 227.9 L451.0 225.8 L451.4 221.9 L451.8 221.2 L452.1 222.7 L452.4 219.6 L452.7 214.5 L452.9 216.4 L453.2 214.1 L453.5 211.3 L453.8 208.1 L454.1 207.5 L454.4 207.3 L454.7 206.0 L455.0 202.7 L455.3 200.6 L455.6 200.4 L455.9 200.2 L456.2 198.8 L456.5 197.6 L456.7 195.9 L457.0 193.7 L457.2 192.3 L457.5 190.7 L457.7 188.4 L458.0 188.2 L458.2 185.9 L458.5 184.3 L458.7 183.9 L459.0 182.6 L459.2 180.9 L459.4 180.2 L459.7 177.7 L459.9 177.7 L460.1 177.4 L460.3 174.4 L460.6 171.5 L460.8 168.3 L461.0 166.5 L461.2 165.5 L461.4 165.6 L461.6 166.0 L461.8 161.4 L462.0 161.6 L462.2 160.3 L462.5 158.7 L462.7 156.9 L462.9 154.1 L463.1 152.7 L463.3 152.2 L463.5 152.3 L463.7 149.4 L463.9 149.8 L464.1 148.3 L464.2 144.8 L464.4 143.8 L464.6 143.4 L464.8 138.5 L465.0 137.0 L465.2 138.3 L465.4 137.0 L465.6 133.0 L465.8 130.9 L465.9 131.9 L466.1 131.6 L466.3 127.4 L466.5 125.2 L466.6 126.7 L466.8 124.8 L466.9 120.2 L467.0 118.9 L467.2 118.6 L467.4 119.0 L467.6 117.1 L467.8 114.3 L468.1 111.2 L468.4 113.9 L468.7 109.9 L469.0 110.5 L469.3 108.9 L469.7 106.3 L470.0 104.2 L470.3 101.5 L470.7 99.7 L471.0 98.3 L471.4 96.9 L471.7 96.0 L472.1 94.7 L472.5 95.0 L472.8 92.4 L473.1 89.1 L473.4 88.5 L473.7 87.5 L474.1 85.6 L474.4 84.0 L474.7 82.6 L475.0 80.8 L475.3 79.7 L475.6 78.6 L476.0 76.8 L476.4 74.9 L476.7 72.9 L477.1 70.9 L477.5 69.3 L478.0 67.9 L478.6 66.4 L479.3 64.8 L480.1 62.9 L481.0 61.4 L482.3 59.7 L483.7 58.1 L485.0 57.6 L485.8 58.0 L486.6 59.3 L487.4 60.7 L488.1 62.3 L488.9 64.3 L489.5 65.9 L489.9 67.0 L490.3 68.6 L490.7 70.1 L491.0 72.3 L491.3 73.5 L491.6 74.7 L491.8 76.3 L492.1 78.7 L492.4 80.1 L492.7 81.5 L493.0 83.0 L493.4 84.9 L493.8 86.4 L494.1 87.5 L494.5 89.0 L494.9 89.3 L495.3 91.1 L495.6 93.0 L496.0 94.3 L496.4 96.3 L496.7 98.7 L497.1 99.4 L497.5 100.0 L497.8 103.2 L498.2 105.5 L498.5 107.1 L498.8 108.5 L499.1 109.7 L499.5 109.1 L499.8 109.1 L500.1 111.9 L500.4 113.8 L500.7 116.8 L501.0 118.1 L501.2 119.6 L501.5 120.7 L501.7 121.6 L501.9 123.4 L502.0 123.8 L502.2 125.1 L502.4 127.9 L502.6 132.3 L502.8 131.5 L503.0 133.6 L503.1 135.7 L503.3 135.3 L503.4 137.2 L503.5 138.5 L503.7 139.0 L503.8 139.7 L503.9 142.6 L504.1 145.5 L504.2 145.6 L504.4 147.8 L504.5 150.2 L504.7 149.6 L504.8 150.2 L505.0 153.0 L505.1 154.7 L505.2 157.4 L505.4 156.6 L505.5 158.0 L505.7 162.1 L505.8 164.6 L506.0 167.6 L506.1 171.8 L506.3 170.6 L506.4 169.5 L506.6 172.1 L506.7 173.2 L506.9 175.3 L507.0 177.8 L507.1 178.2 L507.3 177.5 L507.4 184.1 L507.5 182.2 L507.7 184.5 L507.8 187.3 L507.9 188.1 L508.1 189.7 L508.2 191.0 L508.3 191.0 L508.5 194.7 L508.6 196.6 L508.7 197.7 L508.8 201.0 L509.0 202.0 L509.1 202.2 L509.2 204.4 L509.4 206.0 L509.5 207.0 L509.6 206.2 L509.8 208.8 L509.9 212.3 L510.0 213.3 L510.2 213.1 L510.3 214.1 L510.4 216.9 L510.6 218.6 L510.7 218.9 L510.9 220.9 L511.0 223.6 L511.1 223.7 L511.3 225.3 L511.4 226.5 L511.6 230.2 L511.7 230.7 L511.9 232.3 L512.0 235.4 L512.2 236.0 L512.3 236.6 L512.5 239.2 L512.6 237.5 L512.8 240.0 L512.9 243.3 L513.1 245.5 L513.3 247.7 L513.4 248.4 L513.6 250.5 L513.7 251.1 L513.9 250.6 L514.0 253.6 L514.2 255.2 L514.3 257.0 L514.5 257.8 L514.6 259.2 L514.7 260.7 L514.9 261.6 L515.0 263.0 L515.1 265.6 L515.3 267.5 L515.4 268.9 L515.5 270.0 L515.6 270.0 L515.8 271.1 L515.9 272.7 L516.0 275.5 L516.2 277.7 L516.3 280.2 L516.4 282.8 L516.5 283.9 L516.6 283.9 L516.7 284.5 L516.8 289.1 L516.9 289.6 L517.0 286.5 L517.2 290.3 L517.3 294.0 L517.4 294.5 L517.5 295.9 L517.6 297.4 L517.7 298.7 L517.8 300.2 L517.9 301.9 L518.1 303.7 L518.2 305.3 L518.4 306.1 L518.5 308.1 L518.7 308.8 L518.8 308.3 L518.9 311.3 L519.1 313.8 L519.2 314.4 L519.4 317.8 L519.5 318.6 L519.6 320.5 L519.7 321.3 L519.8 323.0 L519.9 325.3 L520.0 327.5 L520.1 326.7 L520.2 327.2 L520.3 332.8 L520.4 333.1 L520.5 337.5 L520.6 335.2 L520.7 334.4 L520.8 338.8 L520.9 341.2 L521.0 341.9 L521.1 342.5 L521.2 344.3 L521.4 343.6 L521.5 345.4 L521.6 349.0 L521.7 350.0 L521.9 349.7 L522.0 353.4 L522.1 354.2 L522.3 355.9 L522.4 358.3 L522.6 360.0 L522.8 362.2 L522.9 364.2 L523.1 366.3 L523.3 368.0 L523.5 367.7 L523.7 368.4 L523.9 367.9 L524.1 370.0 L524.3 371.1 L524.5 373.5 L524.7 376.2 L524.9 378.7 L525.1 379.6 L525.3 385.1 L525.5 383.2 L525.8 382.6 L526.0 388.5 L526.2 387.5 L526.5 389.2 L526.7 391.4 L527.0 393.0 L527.2 397.1 L527.5 398.9 L527.8 398.8 L528.0 398.5 L528.3 400.2 L528.6 403.2 L528.9 404.6 L529.2 405.7 L529.5 408.2 L529.9 408.7 L530.2 407.8 L530.5 408.3 L530.9 411.9 L531.3 415.8 L531.8 416.2 L532.3 416.3 L532.9 417.4 L533.6 421.1 L534.3 419.2 L534.9 422.7 L535.6 425.7 L536.3 425.6 L536.9 427.9 L537.5 430.7 L538.6 431.6 L539.6 433.0 L540.2 431.2 L540.2 430.1 L540.2 431.5 L540.5 433.8 L541.0 435.5 L541.6 436.4 L542.2 438.2 L542.8 441.4 L543.2 441.8 L543.5 445.5 L543.8 446.5 L544.2 449.2 L544.5 446.1 L544.9 447.2 L545.2 451.7 L545.6 454.3 L546.1 456.7 L546.5 457.2 L547.0 458.9 L547.6 460.3 L548.2 461.0 L548.9 464.0 L549.5 465.8 L550.2 466.2 L551.0 467.7 L551.7 471.7 L552.4 470.0 L553.2 471.0 L554.1 472.3 L555.0 472.7 L555.9 477.2 L556.9 479.1 L557.8 477.8 L558.7 474.8 L559.5 475.7 L560.4 480.0 L561.2 480.4 L562.0 481.8 L562.8 483.5 L563.7 484.1 L565.0 485.7 L566.3 487.4 L567.7 489.1 L569.0 489.9 L569.7 488.7 L570.4 489.0 L571.0 494.2 L571.6 497.8 L572.2 499.9 L572.8 497.4 L573.4 499.2 L574.0 502.3 L574.7 504.4 L575.4 505.0 L576.3 506.4 L577.2 507.5 L578.1 508.1 L579.0 510.0 L580.0 507.4 L581.0 510.6 L582.0 512.5 L583.0 515.2 L584.0 517.6 L585.1 517.4 L586.2 519.9 L587.3 520.4 L588.4 521.6 L589.4 523.3 L590.3 526.1 L591.1 524.4 L591.7 525.2 L592.1 526.4 L592.4 527.6 L592.7 531.6 L592.9 534.8 L593.2 536.5 L593.5 538.0 L593.8 541.4 L594.3 541.8 L595.0 541.8 L596.5 544.2 L598.4 540.8 L600.3 540.5 L602.0 541.0 L603.6 543.1 L605.1 546.2 L606.6 547.2 L608.0 546.5 L609.6 551.4 L611.1 549.1 L612.5 550.9 L613.4 551.6 L614.3 547.8 L615.1 546.4 L615.9 544.1 L616.7 542.2 L617.5 540.1 L618.3 539.0 L619.1 539.1 L620.0 543.4 L620.8 544.9 L621.6 546.3 L622.4 546.6 L623.3 547.8 L624.1 549.4 L625.9 553.6 L627.6 554.7 L628.4 553.6 L629.3 550.8 L630.1 551.5 L630.9 547.2 L631.8 546.1 L632.6 545.4 L633.4 543.3 L634.4 542.4 L635.3 545.2 L636.3 546.4 L637.2 548.8 L638.1 550.4 L638.8 551.7 L639.4 553.3 L640.1 554.0 L640.7 554.3 L641.3 558.2 L642.0 561.5 L642.7 564.0 L643.8 562.7 L644.8 564.3 L646.0 564.6 L647.4 566.8 L649.0 565.9 L650.9 564.5 L652.7 562.4 L654.4 563.5 L655.5 566.8 L656.5 567.7 L657.4 568.8 L658.3 568.2 L659.2 571.4 L660.2 571.9 L661.8 571.1 L663.4 570.6 L664.9 573.4 L666.0 575.7 L667.1 577.7 L668.1 578.5 L669.0 576.9 L670.0 578.4 L670.8 583.5 L671.6 580.9 L672.4 584.1 L673.2 586.0 L674.2 583.1 L675.7 588.8 L677.3 589.5 L679.0 588.0 L680.5 590.0 L682.0 590.0 L683.4 589.6 L684.7 584.3 L685.4 582.2 L686.1 583.5 L686.6 581.0 L687.2 577.7 L687.7 576.1 L688.3 577.1 L688.9 572.9 L689.9 574.2 L690.9 571.9 L692.0 571.6 L693.0 571.2 L694.1 572.9 L695.1 576.0 L696.2 575.6 L697.1 575.7 L697.9 574.1 L698.7 573.1 L699.6 571.8 L700.4 571.4 L701.9 568.2 L703.5 567.3 L704.9 566.2 L706.3 568.7 L707.7 572.7 L708.5 573.7 L709.2 573.1 L709.9 579.3 L710.6 578.9 L711.2 578.4 L711.9 579.0 L712.6 580.1 L713.2 579.6 L713.9 576.0 L714.6 574.8 L715.3 573.2 L716.1 573.0 L717.6 571.5 L719.2 570.6 L720.1 571.4 L721.0 570.8 L721.9 574.2 L722.8 572.3 L723.7 574.8 L724.5 577.7 L725.4 578.6 L726.1 581.9 L726.9 583.2 L727.7 585.6 L728.7 586.9 L730.2 585.4 L731.8 588.5 L733.5 588.9 L735.0 586.2 L736.2 590.6 L737.3 590.9 L738.2 592.9 L739.2 594.0 L740.0 595.5 L740.7 597.7 L741.5 596.2 L742.3 597.3 L743.3 601.4 L744.7 602.4 L746.3 601.5 L748.0 603.8 L749.6 604.8 L751.2 605.2 L752.8 602.7 L754.4 604.8 L755.9 602.3 L758.0 601.3 L760.0 601.2" stroke="#FC8400"/>
<path d="M84.2 597.6 L85.5 593.8 L86.7 593.4 L87.9 592.9 L89.2 590.5 L90.4 590.6 L91.7 589.5 L92.9 586.6 L94.2 589.6 L95.5 588.3 L96.8 585.7 L98.1 585.6 L99.4 585.6 L100.7 583.8 L102.0 582.4 L103.4 581.0 L104.7 582.4 L106.1 581.4 L107.4 579.8 L108.8 579.1 L110.1 580.6 L111.4 578.5 L112.8 578.7 L114.3 577.8 L115.8 573.7 L117.2 573.1 L118.6 570.3 L120.1 574.0 L121.4 571.8 L122.7 571.0 L124.0 572.8 L125.5 570.6 L126.9 573.5 L128.3 572.5 L129.6 574.8 L131.0 579.7 L132.4 581.2 L133.6 578.8 L134.9 578.3 L136.2 577.2 L137.5 576.3 L138.8 573.7 L140.1 570.5 L141.5 569.9 L142.8 573.0 L144.3 574.5 L145.8 571.2 L147.3 570.9 L148.8 571.8 L150.3 569.6 L151.8 568.8 L153.3 567.7 L154.7 566.2 L156.0 564.0 L157.4 565.3 L158.7 564.2 L160.0 564.3 L161.3 560.3 L162.5 558.8 L163.8 560.9 L164.9 558.8 L165.9 555.6 L167.0 553.5 L168.0 552.4 L169.0 552.0 L170.0 550.9 L171.0 551.6 L172.0 549.1 L173.1 549.4 L174.2 549.4 L175.5 546.9 L176.8 545.4 L178.2 545.3 L179.6 543.6 L181.0 540.8 L182.3 542.2 L183.6 542.9 L184.7 541.4 L185.7 538.5 L186.5 537.2 L187.2 535.6 L187.9 534.7 L188.6 535.9 L189.3 535.1 L190.1 532.5 L191.0 531.2 L192.2 530.2 L193.6 528.3 L195.0 527.2 L196.5 526.0 L198.0 527.3 L199.4 529.3 L201.1 526.4 L202.8 524.4 L204.5 523.6 L206.2 524.6 L207.7 524.2 L209.1 520.9 L210.4 521.9 L211.6 520.9 L212.7 520.3 L214.0 520.0 L215.0 516.1 L216.1 514.6 L217.1 514.6 L218.2 514.1 L219.3 511.0 L220.3 509.0 L221.4 508.4 L222.4 506.3 L223.3 505.0 L224.1 506.7 L225.0 503.4 L225.9 501.0 L226.8 501.5 L227.6 500.1 L228.4 498.5 L229.3 498.3 L230.0 496.8 L230.8 495.3 L231.5 494.7 L232.2 492.2 L232.8 489.3 L233.5 488.0 L234.1 486.6 L234.7 485.4 L235.3 482.0 L235.8 480.7 L236.4 480.1 L237.0 477.1 L237.5 476.8 L238.1 476.5 L238.6 475.5 L239.1 473.6 L239.6 470.8 L240.0 468.8 L240.5 468.2 L241.0 467.3 L241.5 465.2 L242.0 464.1 L242.6 461.1 L243.1 461.3 L243.6 457.8 L244.1 458.8 L244.7 459.2 L245.2 458.8 L245.8 457.6 L246.4 451.9 L247.0 453.5 L247.6 453.0 L248.1 450.5 L248.7 447.1 L249.3 447.8 L249.8 446.8 L250.4 442.4 L250.9 443.3 L251.5 441.8 L252.1 439.0 L252.6 436.9 L253.1 434.4 L253.7 433.0 L254.2 432.8 L254.7 431.6 L255.3 431.2 L255.9 427.2 L256.5 427.0 L257.2 427.3 L258.0 424.8 L258.8 421.5 L259.7 422.2 L260.6 420.2 L261.5 419.9 L262.4 419.2 L263.3 418.4 L264.1 414.9 L264.9 411.3 L265.6 411.3 L266.3 412.1 L266.9 410.7 L267.4 409.5 L267.8 406.4 L268.2 406.0 L268.7 402.6 L269.2 399.1 L269.8 402.8 L270.4 396.8 L271.1 398.6 L271.8 397.7 L272.6 394.4 L273.3 392.0 L274.1 391.9 L274.8 388.3 L275.5 387.6 L276.1 388.1 L276.8 387.5 L277.4 386.1 L278.0 383.7 L278.6 381.5 L279.2 379.1 L279.7 378.2 L280.3 378.2 L280.8 376.0 L281.2 375.2 L281.7 372.4 L282.1 370.6 L282.6 370.1 L283.0 368.6 L283.4 368.0 L283.8 366.7 L284.2 366.5 L284.5 362.7 L284.8 360.4 L285.1 358.4 L285.4 358.4 L285.6 357.6 L285.9 354.5 L286.2 354.0 L286.5 353.3 L286.8 350.8 L287.2 349.2 L287.6 349.5 L288.0 347.1 L288.5 346.3 L288.9 345.7 L289.4 343.3 L289.8 340.0 L290.3 338.7 L290.7 337.7 L291.2 334.4 L291.7 334.4 L292.3 333.9 L292.8 332.3 L293.3 329.0 L293.9 329.9 L294.4 326.1 L294.9 324.1 L295.3 321.7 L295.6 321.8 L296.0 320.5 L296.4 319.3 L296.7 318.6 L297.1 317.0 L297.5 315.9 L297.8 312.4 L298.2 310.7 L298.5 310.7 L298.8 310.5 L299.2 309.3 L299.5 305.9 L299.9 303.2 L300.2 304.3 L300.6 302.0 L300.9 299.0 L301.3 298.0 L301.6 295.7 L302.0 295.6 L302.3 293.7 L302.6 293.7 L303.0 290.5 L303.3 288.1 L303.7 288.1 L304.0 286.2 L304.4 283.1 L304.7 280.5 L305.1 279.1 L305.4 279.6 L305.8 275.6 L306.1 272.9 L306.5 273.3 L306.8 273.9 L307.1 272.6 L307.3 270.9 L307.6 268.3 L307.9 265.5 L308.2 265.9 L308.5 265.6 L308.7 263.5 L309.0 262.9 L309.3 259.3 L309.6 257.6 L310.0 258.3 L310.3 258.4 L310.6 255.4 L311.0 254.7 L311.5 251.0 L312.1 249.8 L312.6 247.3 L313.3 244.3 L313.9 245.5 L314.5 244.6 L315.0 242.0 L315.6 241.3 L316.1 238.8 L316.5 234.7 L316.8 233.8 L317.0 232.5 L317.2 233.6 L317.4 231.9 L317.5 228.2 L317.7 227.2 L317.8 229.9 L317.9 223.7 L318.0 222.1 L318.1 221.9 L318.2 220.3 L318.3 217.2 L318.5 214.7 L318.7 214.5 L319.0 213.3 L319.2 209.4 L319.4 211.5 L319.7 209.2 L320.0 206.1 L320.3 204.7 L320.6 202.9 L321.0 200.3 L321.5 199.1 L322.0 199.4 L323.0 196.6 L324.1 195.3 L325.3 194.4 L326.5 195.0 L327.6 196.3 L328.7 198.3 L329.9 196.0 L331.0 198.1 L332.2 199.6 L333.3 202.7 L334.3 205.3 L335.3 207.5 L336.3 207.6 L337.3 210.0 L338.2 212.9 L339.1 211.2 L339.9 208.7 L340.4 211.5 L340.9 213.9 L341.3 213.3 L341.7 215.8 L342.1 218.4 L342.4 219.4 L342.7 222.7 L343.0 225.1 L343.3 224.6 L343.7 226.7 L344.0 226.9 L344.4 228.1 L344.9 231.2 L345.3 233.0 L345.8 232.3 L346.3 233.4 L346.8 236.4 L347.3 237.3 L347.8 241.4 L348.3 243.2 L348.8 242.1 L349.5 242.1 L350.3 245.9 L351.1 248.0 L351.8 249.5 L352.5 251.6 L353.2 251.8 L353.7 252.4 L354.1 252.4 L354.4 250.8 L354.8 254.2 L355.1 258.4 L355.5 260.3 L355.8 262.5 L356.1 263.5 L356.5 265.5 L356.9 267.3 L357.2 266.7 L357.6 268.2 L358.0 269.0 L358.3 273.4 L358.7 274.3 L359.1 276.7 L359.4 279.4 L359.8 279.9 L360.2 280.1 L360.5 281.3 L360.8 281.8 L361.1 284.7 L361.5 284.8 L361.8 287.6 L362.2 289.3 L362.7 290.4 L363.2 291.9 L364.2 294.0 L365.2 296.5 L366.4 294.7 L367.6 294.3 L368.6 298.0 L369.7 300.3 L370.8 300.1 L371.9 301.3 L373.2 300.9 L374.9 299.2 L376.7 299.5 L378.5 301.0 L380.2 299.6 L381.5 300.1 L382.8 301.5 L383.9 303.7 L384.9 305.3 L385.7 307.2 L386.2 310.1 L386.5 312.3 L386.6 315.1 L386.8 315.7 L387.1 315.5 L387.4 315.6 L387.8 315.8 L388.1 314.1 L388.5 311.3 L389.0 308.7 L389.5 309.6 L390.0 305.2 L390.6 304.1 L391.3 302.4 L393.4 302.3 L395.5 302.3 L396.3 299.9 L397.0 300.4 L397.7 303.2 L398.3 306.2 L399.0 307.7 L399.6 311.4 L400.3 314.0 L401.1 312.5 L402.1 308.0 L403.2 310.0 L404.3 309.6 L405.5 307.3 L406.7 304.7 L408.0 304.2 L409.5 306.1 L411.0 306.9 L412.4 305.2 L413.7 302.9 L414.8 302.5 L415.8 301.3 L416.7 300.9 L417.6 298.5 L418.4 296.4 L419.3 294.5 L420.1 294.3 L420.9 294.4 L421.7 290.6 L422.5 289.9 L423.3 287.4 L424.1 288.8 L424.9 287.2 L425.7 284.5 L426.5 284.0 L427.3 280.8 L428.1 279.0 L428.9 278.0 L429.7 277.0 L430.5 275.8 L431.2 274.2 L431.9 273.8 L432.6 273.4 L433.3 270.1 L434.0 266.9 L434.7 268.2 L435.3 268.0 L436.0 264.8 L436.7 261.4 L437.4 262.4 L438.1 262.7 L438.8 256.9 L439.5 258.3 L440.2 255.7 L440.8 253.9 L441.3 254.1 L441.9 250.6 L442.5 251.6 L443.1 251.5 L443.7 247.9 L444.3 244.3 L444.9 241.8 L445.4 240.4 L445.9 242.3 L446.3 240.7 L446.7 237.4 L447.0 235.0 L447.3 233.6 L447.7 233.0 L448.0 231.1 L448.3 232.9 L448.6 228.7 L448.8 226.7 L449.1 227.2 L449.4 227.3 L449.7 224.6 L450.0 221.4 L450.3 220.3 L450.6 219.1 L450.9 217.5 L451.2 214.4 L451.5 211.8 L451.8 211.4 L452.2 209.6 L452.5 210.3 L452.8 208.3 L453.1 204.8 L453.4 203.7 L453.7 202.2 L454.0 201.4 L454.3 201.0 L454.6 195.8 L454.9 194.3 L455.2 195.1 L455.4 193.6 L455.7 192.7 L455.9 191.3 L456.2 189.6 L456.4 188.4 L456.7 185.4 L456.9 184.4 L457.1 181.8 L457.4 180.7 L457.6 181.2 L457.8 178.3 L458.1 174.5 L458.3 174.6 L458.5 175.2 L458.8 173.2 L459.0 170.3 L459.2 168.3 L459.4 169.6 L459.7 168.7 L459.9 166.5 L460.1 164.9 L460.3 163.6 L460.5 161.7 L460.8 158.9 L461.0 158.2 L461.2 156.3 L461.4 156.0 L461.6 151.5 L461.8 150.3 L462.0 150.7 L462.2 149.4 L462.4 146.0 L462.7 143.7 L462.9 142.6 L463.1 142.8 L463.2 142.5 L463.4 140.6 L463.6 138.3 L463.8 135.5 L464.0 134.7 L464.2 135.1 L464.3 133.7 L464.5 131.1 L464.7 129.0 L464.9 127.1 L465.1 125.3 L465.3 122.6 L465.4 120.3 L465.6 120.4 L465.7 119.3 L465.9 119.2 L466.1 115.9 L466.3 114.0 L466.5 111.5 L466.7 109.2 L467.0 107.5 L467.4 108.1 L467.8 105.6 L468.2 106.1 L468.6 104.6 L469.0 102.2 L469.4 101.5 L469.8 99.4 L470.3 97.6 L470.8 95.9 L471.2 93.7 L471.7 92.5 L472.2 90.6 L472.7 89.1 L473.2 88.0 L473.6 86.2 L474.1 84.6 L474.5 83.3 L475.0 81.2 L475.5 79.7 L476.1 78.4 L476.7 76.7 L477.4 75.4 L478.1 73.8 L478.8 72.8 L479.5 71.2 L480.3 69.9 L481.0 68.6 L481.6 67.1 L482.2 65.5 L482.8 63.4 L483.4 61.5 L483.9 59.9 L484.4 58.6 L485.0 57.5 L485.5 57.1 L486.1 57.5 L486.6 58.3 L487.2 59.6 L487.7 61.4 L488.3 63.5 L488.8 65.4 L489.3 67.2 L489.7 68.5 L490.0 69.9 L490.3 71.6 L490.7 73.0 L491.0 74.6 L491.2 76.6 L491.5 78.0 L491.8 79.5 L492.1 80.7 L492.4 83.0 L492.7 82.9 L493.1 84.6 L493.5 86.7 L493.9 89.4 L494.3 90.3 L494.7 91.2 L495.0 92.8 L495.4 94.9 L495.7 96.0 L496.1 96.8 L496.4 98.3 L496.7 100.9 L497.0 102.9 L497.3 104.3 L497.6 105.5 L497.9 105.5 L498.1 108.5 L498.4 109.4 L498.6 112.0 L498.8 113.7 L499.1 114.2 L499.3 116.7 L499.5 119.2 L499.7 119.6 L499.9 119.1 L500.1 118.6 L500.3 123.4 L500.5 126.4 L500.7 128.2 L500.9 127.3 L501.1 128.9 L501.3 131.7 L501.5 132.8 L501.6 133.4 L501.8 135.1 L501.9 136.0 L502.0 138.5 L502.2 137.7 L502.3 141.2 L502.5 142.2 L502.6 143.8 L502.8 146.6 L502.9 148.8 L503.1 147.0 L503.2 151.6 L503.4 153.0 L503.5 153.8 L503.7 157.2 L503.8 158.1 L503.9 159.4 L504.1 159.1 L504.2 162.7 L504.4 166.9 L504.5 167.2 L504.7 168.3 L504.8 167.6 L505.0 168.1 L505.1 171.9 L505.2 174.0 L505.4 172.6 L505.5 174.3 L505.6 176.0 L505.7 179.9 L505.9 181.0 L506.0 181.0 L506.1 184.2 L506.2 186.7 L506.3 186.0 L506.4 185.9 L506.5 186.9 L506.6 189.4 L506.7 193.0 L506.9 194.4 L507.0 197.5 L507.1 198.0 L507.2 198.0 L507.3 200.3 L507.4 202.8 L507.5 203.7 L507.6 204.0 L507.7 205.4 L507.8 207.8 L507.9 206.8 L508.0 208.2 L508.1 212.1 L508.3 216.0 L508.4 217.1 L508.5 215.9 L508.6 219.1 L508.7 221.9 L508.9 221.5 L509.0 221.7 L509.1 222.7 L509.3 226.3 L509.4 228.4 L509.5 228.4 L509.7 229.7 L509.8 232.9 L510.0 234.3 L510.1 235.3 L510.3 237.3 L510.4 238.4 L510.5 239.0 L510.7 241.1 L510.8 244.5 L511.0 245.2 L511.1 244.5 L511.3 245.0 L511.5 247.6 L511.6 249.8 L511.8 251.2 L511.9 252.7 L512.1 253.1 L512.2 255.7 L512.4 258.2 L512.5 259.2 L512.7 260.8 L512.8 263.2 L513.0 264.1 L513.1 264.3 L513.3 267.1 L513.4 268.2 L513.6 268.3 L513.8 268.7 L513.9 271.3 L514.1 272.7 L514.2 274.3 L514.4 277.2 L514.5 279.0 L514.7 281.5 L514.9 282.5 L515.0 282.8 L515.2 284.0 L515.3 285.5 L515.5 288.6 L515.7 289.5 L515.8 290.4 L516.0 293.6 L516.2 294.1 L516.3 294.4 L516.5 294.6 L516.6 298.9 L516.8 300.4 L516.9 301.4 L517.1 302.1 L517.2 303.0 L517.4 305.5 L517.5 307.7 L517.7 308.7 L517.8 310.0 L517.9 311.1 L518.1 313.6 L518.2 314.9 L518.3 315.3 L518.4 318.6 L518.6 320.8 L518.7 322.2 L518.8 322.3 L518.9 323.3 L519.0 324.6 L519.1 326.5 L519.2 326.4 L519.3 329.6 L519.4 332.4 L519.5 334.1 L519.6 334.1 L519.6 334.3 L519.7 336.2 L519.8 339.0 L519.9 341.2 L520.0 342.4 L520.1 343.2 L520.2 344.9 L520.3 347.7 L520.4 348.3 L520.6 349.2 L520.7 352.7 L520.9 354.9 L521.0 354.8 L521.2 356.5 L521.3 357.2 L521.5 359.1 L521.6 363.0 L521.8 365.3 L522.0 362.7 L522.2 365.9 L522.3 369.6 L522.5 368.6 L522.7 370.2 L522.9 373.3 L523.1 372.9 L523.3 374.7 L523.5 375.6 L523.7 374.8 L523.9 378.1 L524.1 380.3 L524.4 383.7 L524.6 387.1 L524.8 386.4 L525.1 386.5 L525.3 389.0 L525.6 390.8 L525.8 391.4 L526.1 390.6 L526.4 391.6 L526.6 395.1 L526.9 397.9 L527.2 398.5 L527.5 399.5 L527.8 401.0 L528.1 402.2 L528.4 404.4 L528.8 406.3 L529.1 410.4 L529.5 410.7 L529.9 410.1 L530.2 412.1 L530.6 416.3 L531.0 416.9 L531.4 418.2 L531.8 420.5 L532.2 422.3 L532.5 420.0 L532.9 421.4 L533.3 422.5 L533.7 426.5 L534.1 427.0 L534.4 428.0 L534.8 430.2 L535.2 432.8 L535.6 433.4 L536.0 435.5 L536.3 437.1 L536.7 436.5 L537.1 440.5 L537.5 443.2 L537.8 442.1 L538.2 443.0 L538.6 445.0 L539.0 447.9 L539.3 450.2 L539.7 451.4 L540.0 451.6 L540.4 451.3 L540.7 454.8 L541.1 458.7 L541.4 459.9 L541.8 459.6 L542.2 462.0 L542.6 461.9 L543.0 463.4 L543.4 463.3 L543.8 465.9 L544.3 468.4 L544.8 470.2 L545.3 473.8 L545.9 476.1 L546.4 475.5 L547.0 475.2 L547.6 476.4 L548.2 477.6 L548.8 480.4 L549.4 482.7 L550.1 483.8 L550.9 485.3 L551.8 486.6 L552.7 487.3 L553.6 489.9 L554.5 492.9 L555.5 491.9 L556.4 491.3 L557.4 492.4 L558.6 494.5 L559.9 497.1 L561.3 498.6 L562.5 499.4 L563.7 500.3 L565.0 501.4 L566.1 502.0 L567.2 502.6 L568.4 502.4 L569.0 501.5 L569.6 504.5 L570.2 508.4 L570.7 508.4 L571.3 508.6 L571.9 511.9 L572.5 512.8 L573.1 513.6 L573.7 517.9 L574.4 518.5 L575.0 519.2 L575.7 519.7 L576.4 522.0 L577.2 523.4 L578.3 525.6 L579.4 527.1 L580.6 527.3 L581.8 528.0 L583.1 527.2 L584.3 529.8 L585.5 531.5 L586.6 530.9 L587.6 531.7 L588.4 533.5 L589.0 534.3 L589.7 537.6 L590.2 538.3 L590.8 540.4 L591.3 544.2 L591.8 546.1 L592.3 547.0 L592.9 546.8 L593.5 547.6 L594.2 548.7 L595.0 550.7 L596.7 554.3 L598.5 553.4 L600.3 552.9 L602.0 550.6 L603.7 549.9 L605.2 551.9 L606.6 556.2 L607.6 556.5 L608.4 556.6 L609.2 559.2 L610.2 559.1 L611.3 559.6 L612.9 560.0 L614.6 561.0 L616.5 560.4 L618.3 560.4 L620.1 561.2 L621.9 561.6 L623.7 559.1 L625.3 560.4 L626.6 560.9 L627.6 561.7 L628.7 564.1 L629.9 565.4 L631.8 563.8 L633.8 565.7 L635.8 567.2 L637.3 563.7 L638.7 567.9 L640.2 568.5 L641.6 565.8 L643.1 566.4 L644.6 569.3 L646.0 570.0 L647.4 572.1 L648.4 572.6 L649.4 573.3 L650.3 575.1 L651.2 577.2 L652.1 579.9 L652.9 581.5 L653.7 581.2 L654.5 581.3 L655.3 585.2 L656.1 585.8 L657.0 585.8 L657.9 585.0 L658.8 588.5 L659.8 587.8 L660.8 588.9 L661.8 589.5 L662.9 591.8 L663.9 592.9 L664.9 592.0 L666.6 594.1 L668.3 594.5 L670.0 594.1 L671.5 595.1 L673.1 595.3 L674.7 598.5 L676.3 597.9 L677.9 600.7 L679.5 599.8 L681.1 600.3 L682.6 600.0 L683.4 598.7 L684.1 597.4 L684.8 596.9 L685.4 596.5 L686.0 595.6 L686.6 590.7 L687.3 590.4 L688.0 590.4 L688.9 588.4 L690.2 585.4 L691.7 588.0 L693.2 587.5 L694.7 587.6 L696.2 585.2 L698.0 585.4 L699.9 587.3 L701.8 584.8 L703.5 582.7 L705.4 582.5 L707.1 581.1 L708.8 580.4 L709.9 580.6 L710.9 583.2 L711.8 586.2 L712.8 588.9 L714.0 589.1 L715.5 588.3 L717.1 590.1 L718.8 590.9 L720.3 590.3 L721.4 590.7 L722.5 592.5 L723.5 594.7 L724.5 596.7 L725.6 595.1 L726.6 596.7 L727.8 600.8 L729.0 602.1 L730.3 598.2 L731.6 600.5 L732.9 598.2 L734.4 603.6 L736.1 603.1 L737.7 602.7 L739.2 603.6 L740.6 605.0 L741.9 605.8 L743.1 607.6 L744.3 608.6 L745.4 609.8 L746.5 610.0 L747.5 614.0 L748.4 615.4 L749.6 615.9 L750.7 616.5 L752.0 615.0 L753.3 611.6 L754.7 611.1 L755.9 610.0 L758.0 611.3 L760.0 610.8" stroke="#F20D0D"/>
</g>
<rect x="81.3" y="1.3" width="678.5" height="670.1" fill="none" stroke="#000" stroke-width="5.4"/>
<path d="M166.7 671.4 V658.5 M166.7 1.3 V14.4 M251.5 671.4 V646.0 M251.5 1.3 V27.0 M336.3 671.4 V658.5 M336.3 1.3 V14.4 M421.2 671.4 V646.0 M421.2 1.3 V27.0 M506.0 671.4 V658.5 M506.0 1.3 V14.4 M590.8 671.4 V646.0 M590.8 1.3 V27.0 M675.6 671.4 V658.5 M675.6 1.3 V14.4" stroke="#000" stroke-width="5" stroke-linecap="round" fill="none"/>
<g font-family="Liberation Sans" fill="#000" stroke="#fff" stroke-width="0.6">
<text transform="translate(53.46,737.7) scale(1,1.05)" font-size="49">000</text>
<text transform="translate(223.08,737.7) scale(1,1.05)" font-size="49">250</text>
<text transform="translate(392.71,737.7) scale(1,1.05)" font-size="49">500</text>
<text transform="translate(562.33,737.7) scale(1,1.05)" font-size="49">750</text>
<text transform="translate(704.71,737.7) scale(1,1.05)" font-size="49">2000</text>
</g>
<g font-family="Liberation Sans" fill="#000" stroke="#fff" stroke-width="0.6">
<text transform="translate(165.1,845.9) scale(1,1.03)" font-size="62.5">Raman shift (cm</text>
<text x="621.5" y="815.6" font-size="33" stroke="none">-</text>
<text x="658.2" y="845.9" font-size="62.5">)</text>
<text transform="translate(47.2,600.5) rotate(-90) scale(1,1.06)" font-size="61.5">Normalized Intensity</text>
</g>
<path d="M772 29.8 H888.7" stroke="#000" stroke-width="5.6" fill="none"/>
<g font-family="Liberation Sans" fill="#000" stroke="#fff" stroke-width="0.6">
<text x="900" y="46.9" font-size="50">pristine</text>
</g>
<path d="M772 99.1 H888.7" stroke="#7800F6" stroke-width="5.6" fill="none"/>
<g font-family="Liberation Sans" fill="#000" stroke="#fff" stroke-width="0.6">
<text x="900" y="113.7" font-size="50">25 cycles, 25</text>
<text x="1200.7" y="89.7" font-size="30">o</text>
<text x="1218.0" y="113.7" font-size="50">C</text>
</g>
<path d="M772 168.3 H888.7" stroke="#0000E0" stroke-width="5.6" fill="none"/>
<g font-family="Liberation Sans" fill="#000" stroke="#fff" stroke-width="0.6">
<text x="900" y="183.0" font-size="50">50 cycles, 25</text>
<text x="1200.7" y="159.0" font-size="30">o</text>
<text x="1218.0" y="183.0" font-size="50">C</text>
</g>
<path d="M772 235.8 H888.7" stroke="#08F8F8" stroke-width="5.6" fill="none"/>
<g font-family="Liberation Sans" fill="#000" stroke="#fff" stroke-width="0.6">
<text x="927.8" y="252.3" font-size="50">00 cycles, 25</text>
<text x="1228.5" y="228.3" font-size="30">o</text>
<text x="1245.8" y="252.3" font-size="50">C</text>
</g>
<path d="M772 304.8 H888.7" stroke="#08F808" stroke-width="5.6" fill="none"/>
<g font-family="Liberation Sans" fill="#000" stroke="#fff" stroke-width="0.6">
<text x="900" y="320.8" font-size="50">25 cycles, 60</text>
<text x="1200.7" y="296.8" font-size="30">o</text>
<text x="1218.0" y="320.8" font-size="50">C</text>
</g>
<path d="M772 374.0 H888.7" stroke="#FC8400" stroke-width="5.6" fill="none"/>
<g font-family="Liberation Sans" fill="#000" stroke="#fff" stroke-width="0.6">
<text x="900" y="388.6" font-size="50">50 cycles, 60</text>
<text x="1200.7" y="364.6" font-size="30">o</text>
<text x="1218.0" y="388.6" font-size="50">C</text>
</g>
<path d="M772 441.1 H888.7" stroke="#F20D0D" stroke-width="5.6" fill="none"/>
<g font-family="Liberation Sans" fill="#000" stroke="#fff" stroke-width="0.6">
<text x="927.8" y="458.2" font-size="50">00 cycles, 60</text>
<text x="1228.5" y="434.2" font-size="30">o</text>
<text x="1245.8" y="458.2" font-size="50">C</text>
</g>
<path d="M44.65 737.70V702.62H41.41C38.96 706.83 35.04 709.77 31.12 711.49L31.37 714.47C35.04 713.20 38.96 711.00 41.22 708.55V737.70ZM214.27 737.70V702.62H211.04C208.59 706.83 204.67 709.77 200.75 711.49L200.99 714.47C204.67 713.20 208.59 711.00 210.84 708.55V737.70ZM383.90 737.70V702.62H380.66C378.21 706.83 374.29 709.77 370.37 711.49L370.62 714.47C374.29 713.20 378.21 711.00 380.47 708.55V737.70ZM553.52 737.70V702.62H550.29C547.84 706.83 543.92 709.77 540.00 711.49L540.24 714.47C543.92 713.20 547.84 711.00 550.09 708.55V737.70ZM647.71 816.10V791.04H645.40C643.65 794.05 640.85 796.15 638.05 797.38L638.23 799.51C640.85 798.60 643.65 797.02 645.26 795.27V816.10ZM918.30 252.30V216.50H915.00C912.50 220.80 908.50 223.80 904.50 225.55L904.75 228.60C908.50 227.30 912.50 225.05 914.80 222.55V252.30ZM918.30 458.20V422.40H915.00C912.50 426.70 908.50 429.70 904.50 431.45L904.75 434.50C908.50 433.20 912.50 430.95 914.80 428.45V458.20Z" fill="#000"/>
</svg>
</body></html>
